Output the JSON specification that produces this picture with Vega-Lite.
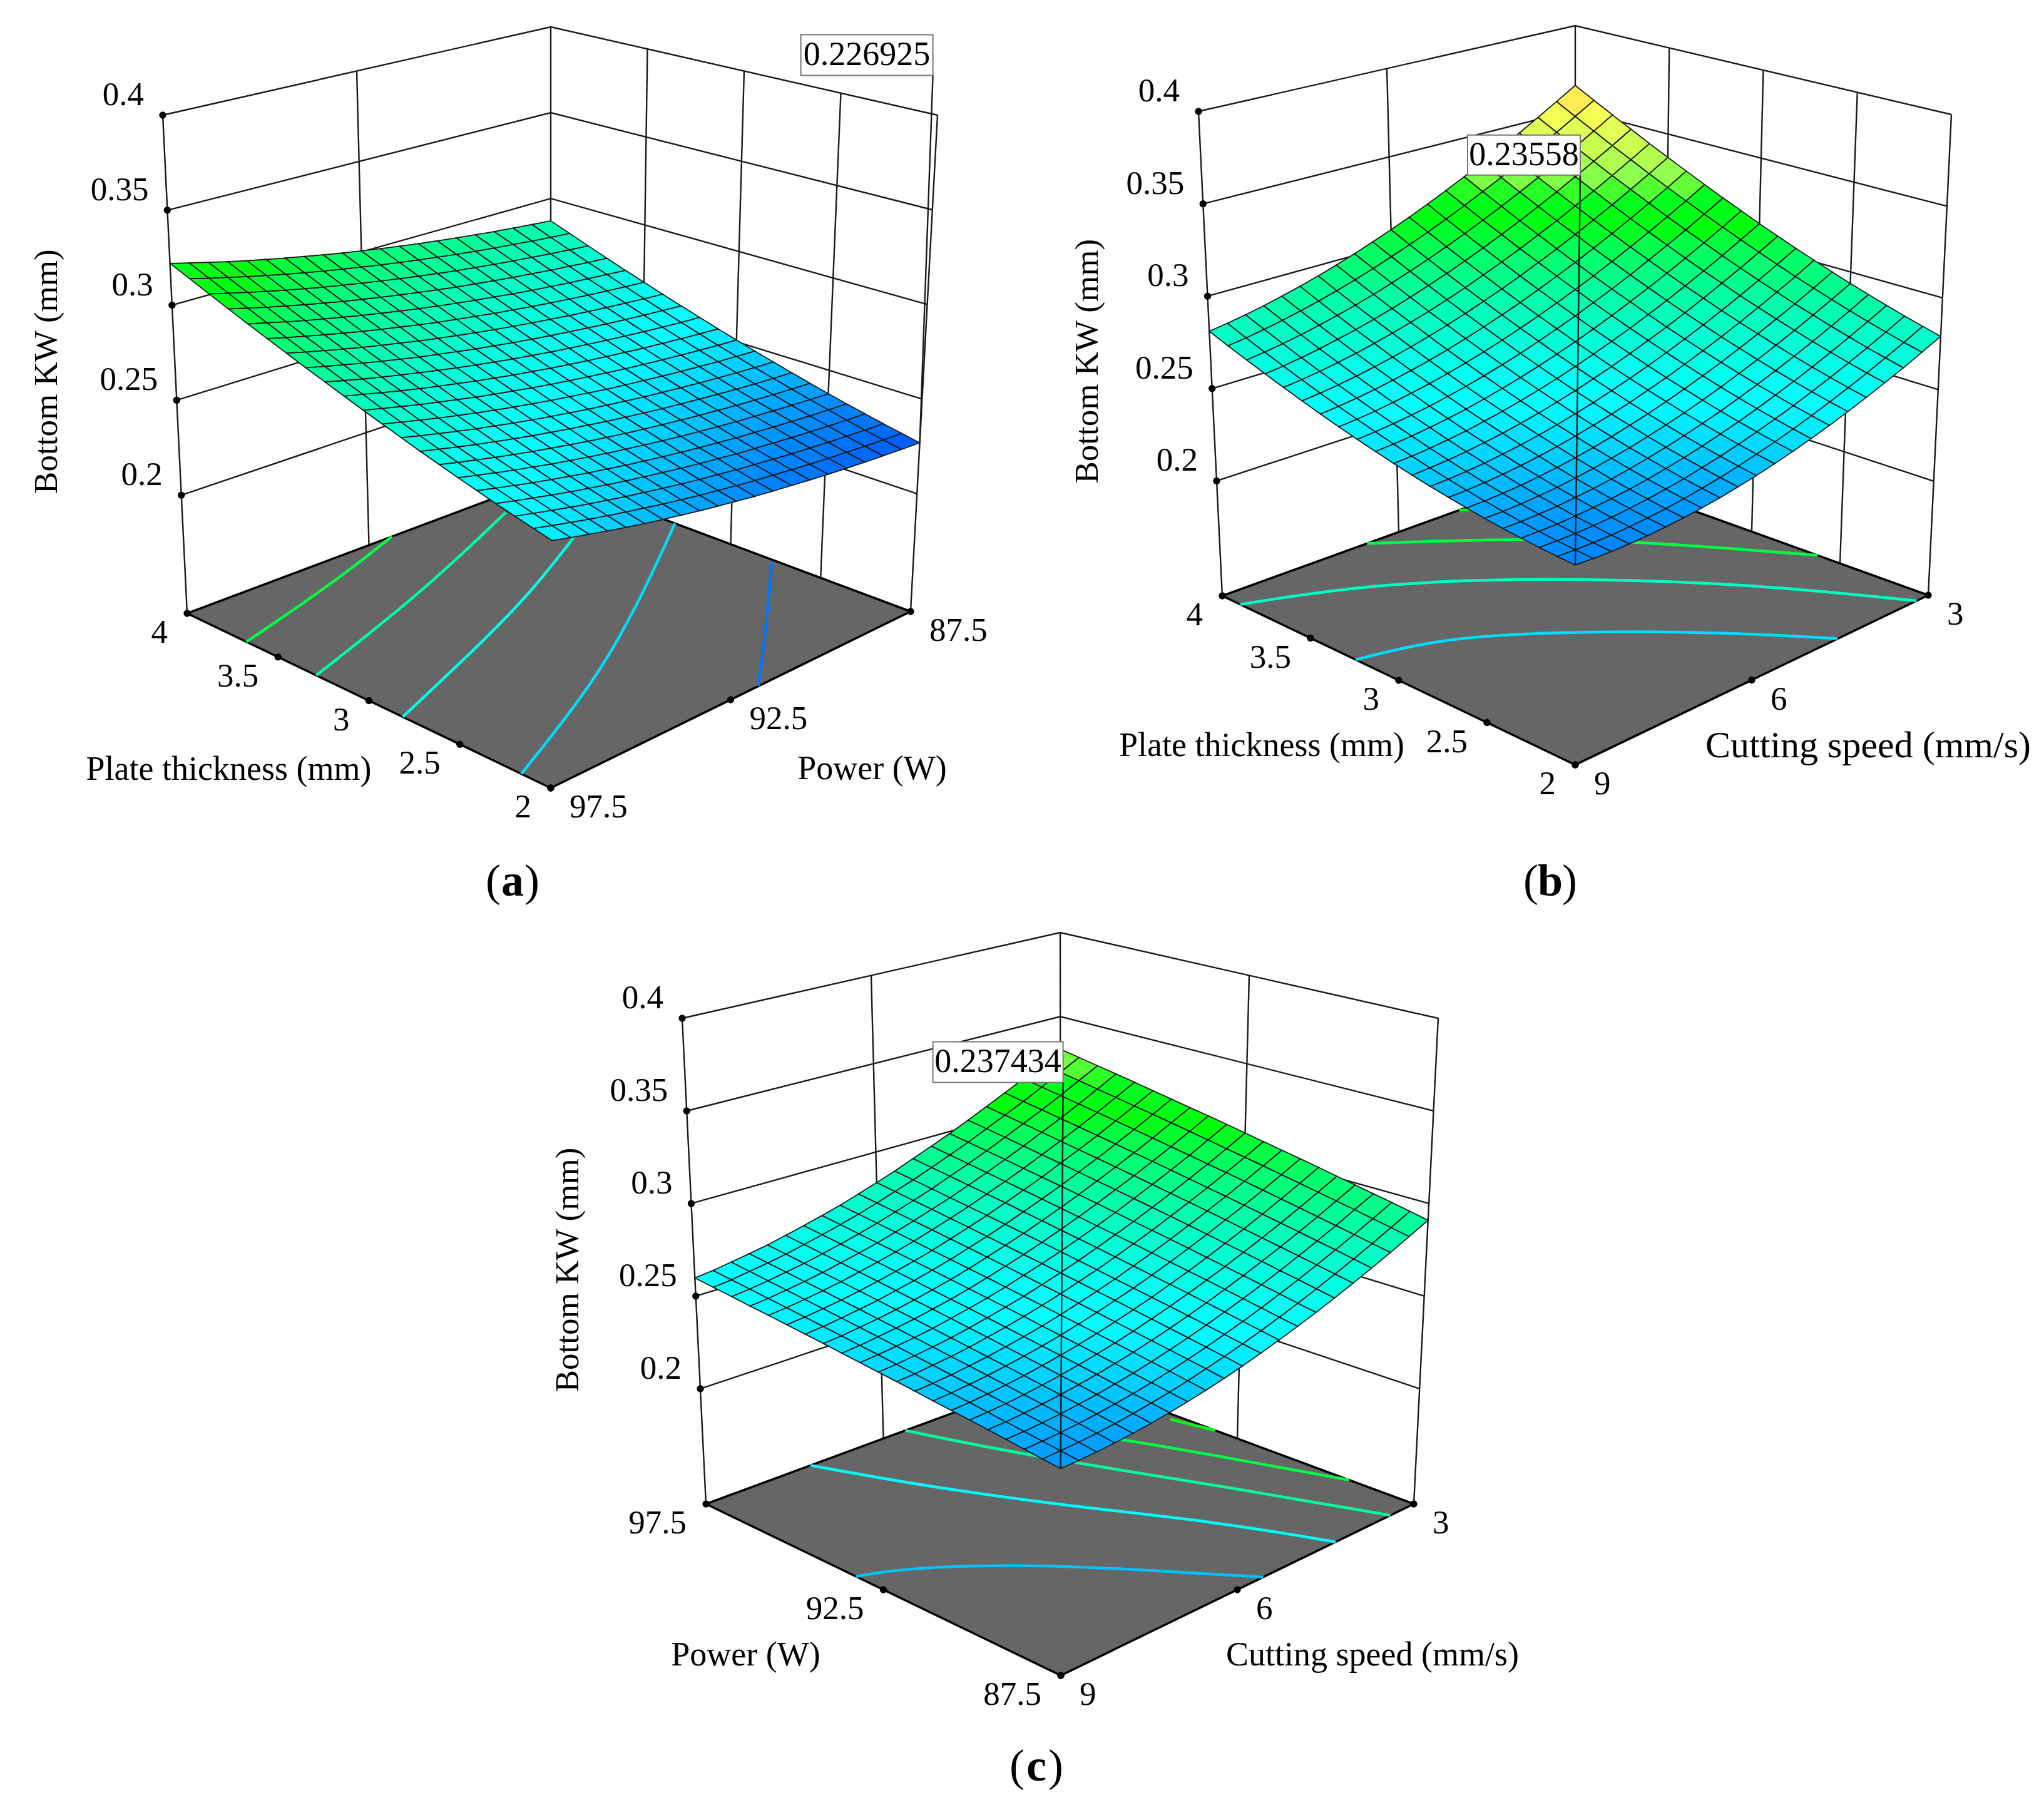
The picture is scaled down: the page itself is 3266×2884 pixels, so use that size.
{"$schema":"https://vega.github.io/schema/vega-lite/v6.json","width":3266,"height":2884,"padding":0,"autosize":{"type":"none"},"background":"white","config":{"view":{"stroke":null}},
"params":[{"name":"cam","value":{"a":{"X":[880,299,1455,880,885,260,1498,880],"Y":[1259,980,977,762,367,184,184,43],"x0":2,"xs":2,"y0":97.5,"ys":10},"b":{"X":[2517,1953,3081,2517,2517,1915,3118,2517],"Y":[1222,952,951,748,366,178,183,41],"x0":2,"xs":2,"y0":9,"ys":6},"c":{"X":[1695,1128,2259,1695,1694,1090,2298,1694],"Y":[2677,2403,2403,2194,1807,1627,1627,1490],"x0":87.5,"xs":10,"y0":9,"ys":6}}},
{"name":"off","value":{"lttl":{"a":[-224,110],"b":[-219,105],"c":[-220,105]},"rttl":{"a":[226,111],"b":[186,105],"c":[216,105]},"zttl":{"a":[-200,106],"b":[-191,104],"c":[-196,106]},"cap":{"a":[-61,150],"b":[-40,187],"c":[-39,146]},"box":{"a":[-190,21,-652,-587],"b":[-172,8,-687,-623],"c":[-204,4,-682,-617]}}}],
"data":{"values":[
{"p":"a","x":2,"y":87.5,"z":0.2269},{"p":"a","x":2,"y":88,"z":0.2275},{"p":"a","x":2,"y":88.5,"z":0.2282},{"p":"a","x":2,"y":89,"z":0.2289},{"p":"a","x":2,"y":89.5,"z":0.2298},{"p":"a","x":2,"y":90,"z":0.2307},{"p":"a","x":2,"y":90.5,"z":0.2317},{"p":"a","x":2,"y":91,"z":0.2328},{"p":"a","x":2,"y":91.5,"z":0.2339},{"p":"a","x":2,"y":92,"z":0.2351},{"p":"a","x":2,"y":92.5,"z":0.2365},{"p":"a","x":2,"y":93,"z":0.2379},{"p":"a","x":2,"y":93.5,"z":0.2393},{"p":"a","x":2,"y":94,"z":0.2409},{"p":"a","x":2,"y":94.5,"z":0.2425},{"p":"a","x":2,"y":95,"z":0.2442},{"p":"a","x":2,"y":95.5,"z":0.246},{"p":"a","x":2,"y":96,"z":0.2479},{"p":"a","x":2,"y":96.5,"z":0.2499},{"p":"a","x":2,"y":97,"z":0.2519},{"p":"a","x":2,"y":97.5,"z":0.254},
{"p":"a","x":2.1,"y":87.5,"z":0.2288},{"p":"a","x":2.1,"y":88,"z":0.2294},{"p":"a","x":2.1,"y":88.5,"z":0.2301},{"p":"a","x":2.1,"y":89,"z":0.2309},{"p":"a","x":2.1,"y":89.5,"z":0.2317},{"p":"a","x":2.1,"y":90,"z":0.2326},{"p":"a","x":2.1,"y":90.5,"z":0.2337},{"p":"a","x":2.1,"y":91,"z":0.2348},{"p":"a","x":2.1,"y":91.5,"z":0.2359},{"p":"a","x":2.1,"y":92,"z":0.2372},{"p":"a","x":2.1,"y":92.5,"z":0.2385},{"p":"a","x":2.1,"y":93,"z":0.2399},{"p":"a","x":2.1,"y":93.5,"z":0.2414},{"p":"a","x":2.1,"y":94,"z":0.243},{"p":"a","x":2.1,"y":94.5,"z":0.2447},{"p":"a","x":2.1,"y":95,"z":0.2464},{"p":"a","x":2.1,"y":95.5,"z":0.2482},{"p":"a","x":2.1,"y":96,"z":0.2501},{"p":"a","x":2.1,"y":96.5,"z":0.2521},{"p":"a","x":2.1,"y":97,"z":0.2541},{"p":"a","x":2.1,"y":97.5,"z":0.2563},
{"p":"a","x":2.2,"y":87.5,"z":0.2308},{"p":"a","x":2.2,"y":88,"z":0.2314},{"p":"a","x":2.2,"y":88.5,"z":0.2321},{"p":"a","x":2.2,"y":89,"z":0.2329},{"p":"a","x":2.2,"y":89.5,"z":0.2338},{"p":"a","x":2.2,"y":90,"z":0.2347},{"p":"a","x":2.2,"y":90.5,"z":0.2358},{"p":"a","x":2.2,"y":91,"z":0.2369},{"p":"a","x":2.2,"y":91.5,"z":0.2381},{"p":"a","x":2.2,"y":92,"z":0.2394},{"p":"a","x":2.2,"y":92.5,"z":0.2407},{"p":"a","x":2.2,"y":93,"z":0.2421},{"p":"a","x":2.2,"y":93.5,"z":0.2437},{"p":"a","x":2.2,"y":94,"z":0.2453},{"p":"a","x":2.2,"y":94.5,"z":0.2469},{"p":"a","x":2.2,"y":95,"z":0.2487},{"p":"a","x":2.2,"y":95.5,"z":0.2505},{"p":"a","x":2.2,"y":96,"z":0.2524},{"p":"a","x":2.2,"y":96.5,"z":0.2544},{"p":"a","x":2.2,"y":97,"z":0.2565},{"p":"a","x":2.2,"y":97.5,"z":0.2586},
{"p":"a","x":2.3,"y":87.5,"z":0.2329},{"p":"a","x":2.3,"y":88,"z":0.2335},{"p":"a","x":2.3,"y":88.5,"z":0.2343},{"p":"a","x":2.3,"y":89,"z":0.2351},{"p":"a","x":2.3,"y":89.5,"z":0.236},{"p":"a","x":2.3,"y":90,"z":0.237},{"p":"a","x":2.3,"y":90.5,"z":0.238},{"p":"a","x":2.3,"y":91,"z":0.2391},{"p":"a","x":2.3,"y":91.5,"z":0.2404},{"p":"a","x":2.3,"y":92,"z":0.2416},{"p":"a","x":2.3,"y":92.5,"z":0.243},{"p":"a","x":2.3,"y":93,"z":0.2445},{"p":"a","x":2.3,"y":93.5,"z":0.246},{"p":"a","x":2.3,"y":94,"z":0.2476},{"p":"a","x":2.3,"y":94.5,"z":0.2493},{"p":"a","x":2.3,"y":95,"z":0.2511},{"p":"a","x":2.3,"y":95.5,"z":0.2529},{"p":"a","x":2.3,"y":96,"z":0.2549},{"p":"a","x":2.3,"y":96.5,"z":0.2569},{"p":"a","x":2.3,"y":97,"z":0.259},{"p":"a","x":2.3,"y":97.5,"z":0.2611},
{"p":"a","x":2.4,"y":87.5,"z":0.2351},{"p":"a","x":2.4,"y":88,"z":0.2358},{"p":"a","x":2.4,"y":88.5,"z":0.2365},{"p":"a","x":2.4,"y":89,"z":0.2374},{"p":"a","x":2.4,"y":89.5,"z":0.2383},{"p":"a","x":2.4,"y":90,"z":0.2393},{"p":"a","x":2.4,"y":90.5,"z":0.2403},{"p":"a","x":2.4,"y":91,"z":0.2415},{"p":"a","x":2.4,"y":91.5,"z":0.2427},{"p":"a","x":2.4,"y":92,"z":0.244},{"p":"a","x":2.4,"y":92.5,"z":0.2454},{"p":"a","x":2.4,"y":93,"z":0.2469},{"p":"a","x":2.4,"y":93.5,"z":0.2484},{"p":"a","x":2.4,"y":94,"z":0.2501},{"p":"a","x":2.4,"y":94.5,"z":0.2518},{"p":"a","x":2.4,"y":95,"z":0.2536},{"p":"a","x":2.4,"y":95.5,"z":0.2555},{"p":"a","x":2.4,"y":96,"z":0.2574},{"p":"a","x":2.4,"y":96.5,"z":0.2595},{"p":"a","x":2.4,"y":97,"z":0.2616},{"p":"a","x":2.4,"y":97.5,"z":0.2638},
{"p":"a","x":2.5,"y":87.5,"z":0.2374},{"p":"a","x":2.5,"y":88,"z":0.2381},{"p":"a","x":2.5,"y":88.5,"z":0.2389},{"p":"a","x":2.5,"y":89,"z":0.2398},{"p":"a","x":2.5,"y":89.5,"z":0.2407},{"p":"a","x":2.5,"y":90,"z":0.2417},{"p":"a","x":2.5,"y":90.5,"z":0.2428},{"p":"a","x":2.5,"y":91,"z":0.244},{"p":"a","x":2.5,"y":91.5,"z":0.2452},{"p":"a","x":2.5,"y":92,"z":0.2466},{"p":"a","x":2.5,"y":92.5,"z":0.248},{"p":"a","x":2.5,"y":93,"z":0.2495},{"p":"a","x":2.5,"y":93.5,"z":0.251},{"p":"a","x":2.5,"y":94,"z":0.2527},{"p":"a","x":2.5,"y":94.5,"z":0.2544},{"p":"a","x":2.5,"y":95,"z":0.2562},{"p":"a","x":2.5,"y":95.5,"z":0.2582},{"p":"a","x":2.5,"y":96,"z":0.2601},{"p":"a","x":2.5,"y":96.5,"z":0.2622},{"p":"a","x":2.5,"y":97,"z":0.2643},{"p":"a","x":2.5,"y":97.5,"z":0.2665},
{"p":"a","x":2.6,"y":87.5,"z":0.2399},{"p":"a","x":2.6,"y":88,"z":0.2406},{"p":"a","x":2.6,"y":88.5,"z":0.2414},{"p":"a","x":2.6,"y":89,"z":0.2423},{"p":"a","x":2.6,"y":89.5,"z":0.2432},{"p":"a","x":2.6,"y":90,"z":0.2443},{"p":"a","x":2.6,"y":90.5,"z":0.2454},{"p":"a","x":2.6,"y":91,"z":0.2466},{"p":"a","x":2.6,"y":91.5,"z":0.2479},{"p":"a","x":2.6,"y":92,"z":0.2492},{"p":"a","x":2.6,"y":92.5,"z":0.2506},{"p":"a","x":2.6,"y":93,"z":0.2521},{"p":"a","x":2.6,"y":93.5,"z":0.2537},{"p":"a","x":2.6,"y":94,"z":0.2554},{"p":"a","x":2.6,"y":94.5,"z":0.2572},{"p":"a","x":2.6,"y":95,"z":0.259},{"p":"a","x":2.6,"y":95.5,"z":0.2609},{"p":"a","x":2.6,"y":96,"z":0.2629},{"p":"a","x":2.6,"y":96.5,"z":0.265},{"p":"a","x":2.6,"y":97,"z":0.2671},{"p":"a","x":2.6,"y":97.5,"z":0.2694},
{"p":"a","x":2.7,"y":87.5,"z":0.2425},{"p":"a","x":2.7,"y":88,"z":0.2432},{"p":"a","x":2.7,"y":88.5,"z":0.244},{"p":"a","x":2.7,"y":89,"z":0.2449},{"p":"a","x":2.7,"y":89.5,"z":0.2459},{"p":"a","x":2.7,"y":90,"z":0.247},{"p":"a","x":2.7,"y":90.5,"z":0.2481},{"p":"a","x":2.7,"y":91,"z":0.2493},{"p":"a","x":2.7,"y":91.5,"z":0.2506},{"p":"a","x":2.7,"y":92,"z":0.252},{"p":"a","x":2.7,"y":92.5,"z":0.2534},{"p":"a","x":2.7,"y":93,"z":0.255},{"p":"a","x":2.7,"y":93.5,"z":0.2566},{"p":"a","x":2.7,"y":94,"z":0.2583},{"p":"a","x":2.7,"y":94.5,"z":0.26},{"p":"a","x":2.7,"y":95,"z":0.2619},{"p":"a","x":2.7,"y":95.5,"z":0.2638},{"p":"a","x":2.7,"y":96,"z":0.2658},{"p":"a","x":2.7,"y":96.5,"z":0.2679},{"p":"a","x":2.7,"y":97,"z":0.2701},{"p":"a","x":2.7,"y":97.5,"z":0.2723},
{"p":"a","x":2.8,"y":87.5,"z":0.2452},{"p":"a","x":2.8,"y":88,"z":0.2459},{"p":"a","x":2.8,"y":88.5,"z":0.2468},{"p":"a","x":2.8,"y":89,"z":0.2477},{"p":"a","x":2.8,"y":89.5,"z":0.2487},{"p":"a","x":2.8,"y":90,"z":0.2498},{"p":"a","x":2.8,"y":90.5,"z":0.2509},{"p":"a","x":2.8,"y":91,"z":0.2521},{"p":"a","x":2.8,"y":91.5,"z":0.2535},{"p":"a","x":2.8,"y":92,"z":0.2549},{"p":"a","x":2.8,"y":92.5,"z":0.2563},{"p":"a","x":2.8,"y":93,"z":0.2579},{"p":"a","x":2.8,"y":93.5,"z":0.2595},{"p":"a","x":2.8,"y":94,"z":0.2612},{"p":"a","x":2.8,"y":94.5,"z":0.263},{"p":"a","x":2.8,"y":95,"z":0.2649},{"p":"a","x":2.8,"y":95.5,"z":0.2668},{"p":"a","x":2.8,"y":96,"z":0.2689},{"p":"a","x":2.8,"y":96.5,"z":0.271},{"p":"a","x":2.8,"y":97,"z":0.2732},{"p":"a","x":2.8,"y":97.5,"z":0.2755},
{"p":"a","x":2.9,"y":87.5,"z":0.248},{"p":"a","x":2.9,"y":88,"z":0.2488},{"p":"a","x":2.9,"y":88.5,"z":0.2496},{"p":"a","x":2.9,"y":89,"z":0.2506},{"p":"a","x":2.9,"y":89.5,"z":0.2516},{"p":"a","x":2.9,"y":90,"z":0.2527},{"p":"a","x":2.9,"y":90.5,"z":0.2539},{"p":"a","x":2.9,"y":91,"z":0.2551},{"p":"a","x":2.9,"y":91.5,"z":0.2564},{"p":"a","x":2.9,"y":92,"z":0.2579},{"p":"a","x":2.9,"y":92.5,"z":0.2594},{"p":"a","x":2.9,"y":93,"z":0.2609},{"p":"a","x":2.9,"y":93.5,"z":0.2626},{"p":"a","x":2.9,"y":94,"z":0.2643},{"p":"a","x":2.9,"y":94.5,"z":0.2661},{"p":"a","x":2.9,"y":95,"z":0.268},{"p":"a","x":2.9,"y":95.5,"z":0.27},{"p":"a","x":2.9,"y":96,"z":0.272},{"p":"a","x":2.9,"y":96.5,"z":0.2742},{"p":"a","x":2.9,"y":97,"z":0.2764},{"p":"a","x":2.9,"y":97.5,"z":0.2787},
{"p":"a","x":3,"y":87.5,"z":0.251},{"p":"a","x":3,"y":88,"z":0.2517},{"p":"a","x":3,"y":88.5,"z":0.2526},{"p":"a","x":3,"y":89,"z":0.2536},{"p":"a","x":3,"y":89.5,"z":0.2546},{"p":"a","x":3,"y":90,"z":0.2557},{"p":"a","x":3,"y":90.5,"z":0.2569},{"p":"a","x":3,"y":91,"z":0.2582},{"p":"a","x":3,"y":91.5,"z":0.2596},{"p":"a","x":3,"y":92,"z":0.261},{"p":"a","x":3,"y":92.5,"z":0.2625},{"p":"a","x":3,"y":93,"z":0.2641},{"p":"a","x":3,"y":93.5,"z":0.2658},{"p":"a","x":3,"y":94,"z":0.2675},{"p":"a","x":3,"y":94.5,"z":0.2693},{"p":"a","x":3,"y":95,"z":0.2713},{"p":"a","x":3,"y":95.5,"z":0.2733},{"p":"a","x":3,"y":96,"z":0.2753},{"p":"a","x":3,"y":96.5,"z":0.2775},{"p":"a","x":3,"y":97,"z":0.2797},{"p":"a","x":3,"y":97.5,"z":0.282},
{"p":"a","x":3.1,"y":87.5,"z":0.254},{"p":"a","x":3.1,"y":88,"z":0.2548},{"p":"a","x":3.1,"y":88.5,"z":0.2557},{"p":"a","x":3.1,"y":89,"z":0.2567},{"p":"a","x":3.1,"y":89.5,"z":0.2577},{"p":"a","x":3.1,"y":90,"z":0.2589},{"p":"a","x":3.1,"y":90.5,"z":0.2601},{"p":"a","x":3.1,"y":91,"z":0.2614},{"p":"a","x":3.1,"y":91.5,"z":0.2628},{"p":"a","x":3.1,"y":92,"z":0.2642},{"p":"a","x":3.1,"y":92.5,"z":0.2658},{"p":"a","x":3.1,"y":93,"z":0.2674},{"p":"a","x":3.1,"y":93.5,"z":0.2691},{"p":"a","x":3.1,"y":94,"z":0.2709},{"p":"a","x":3.1,"y":94.5,"z":0.2728},{"p":"a","x":3.1,"y":95,"z":0.2747},{"p":"a","x":3.1,"y":95.5,"z":0.2767},{"p":"a","x":3.1,"y":96,"z":0.2788},{"p":"a","x":3.1,"y":96.5,"z":0.281},{"p":"a","x":3.1,"y":97,"z":0.2833},{"p":"a","x":3.1,"y":97.5,"z":0.2855},
{"p":"a","x":3.2,"y":87.5,"z":0.2572},{"p":"a","x":3.2,"y":88,"z":0.258},{"p":"a","x":3.2,"y":88.5,"z":0.2589},{"p":"a","x":3.2,"y":89,"z":0.2599},{"p":"a","x":3.2,"y":89.5,"z":0.261},{"p":"a","x":3.2,"y":90,"z":0.2622},{"p":"a","x":3.2,"y":90.5,"z":0.2634},{"p":"a","x":3.2,"y":91,"z":0.2647},{"p":"a","x":3.2,"y":91.5,"z":0.2661},{"p":"a","x":3.2,"y":92,"z":0.2676},{"p":"a","x":3.2,"y":92.5,"z":0.2691},{"p":"a","x":3.2,"y":93,"z":0.2708},{"p":"a","x":3.2,"y":93.5,"z":0.2725},{"p":"a","x":3.2,"y":94,"z":0.2743},{"p":"a","x":3.2,"y":94.5,"z":0.2762},{"p":"a","x":3.2,"y":95,"z":0.2782},{"p":"a","x":3.2,"y":95.5,"z":0.2802},{"p":"a","x":3.2,"y":96,"z":0.2823},{"p":"a","x":3.2,"y":96.5,"z":0.2844},{"p":"a","x":3.2,"y":97,"z":0.2867},{"p":"a","x":3.2,"y":97.5,"z":0.2891},
{"p":"a","x":3.3,"y":87.5,"z":0.2605},{"p":"a","x":3.3,"y":88,"z":0.2614},{"p":"a","x":3.3,"y":88.5,"z":0.2623},{"p":"a","x":3.3,"y":89,"z":0.2633},{"p":"a","x":3.3,"y":89.5,"z":0.2644},{"p":"a","x":3.3,"y":90,"z":0.2656},{"p":"a","x":3.3,"y":90.5,"z":0.2669},{"p":"a","x":3.3,"y":91,"z":0.2682},{"p":"a","x":3.3,"y":91.5,"z":0.2696},{"p":"a","x":3.3,"y":92,"z":0.2711},{"p":"a","x":3.3,"y":92.5,"z":0.2727},{"p":"a","x":3.3,"y":93,"z":0.2743},{"p":"a","x":3.3,"y":93.5,"z":0.2761},{"p":"a","x":3.3,"y":94,"z":0.2779},{"p":"a","x":3.3,"y":94.5,"z":0.2797},{"p":"a","x":3.3,"y":95,"z":0.2817},{"p":"a","x":3.3,"y":95.5,"z":0.2838},{"p":"a","x":3.3,"y":96,"z":0.2859},{"p":"a","x":3.3,"y":96.5,"z":0.2881},{"p":"a","x":3.3,"y":97,"z":0.2904},{"p":"a","x":3.3,"y":97.5,"z":0.2927},
{"p":"a","x":3.4,"y":87.5,"z":0.2639},{"p":"a","x":3.4,"y":88,"z":0.2648},{"p":"a","x":3.4,"y":88.5,"z":0.2658},{"p":"a","x":3.4,"y":89,"z":0.2668},{"p":"a","x":3.4,"y":89.5,"z":0.2679},{"p":"a","x":3.4,"y":90,"z":0.2691},{"p":"a","x":3.4,"y":90.5,"z":0.2704},{"p":"a","x":3.4,"y":91,"z":0.2718},{"p":"a","x":3.4,"y":91.5,"z":0.2732},{"p":"a","x":3.4,"y":92,"z":0.2747},{"p":"a","x":3.4,"y":92.5,"z":0.2763},{"p":"a","x":3.4,"y":93,"z":0.278},{"p":"a","x":3.4,"y":93.5,"z":0.2797},{"p":"a","x":3.4,"y":94,"z":0.2815},{"p":"a","x":3.4,"y":94.5,"z":0.2835},{"p":"a","x":3.4,"y":95,"z":0.2855},{"p":"a","x":3.4,"y":95.5,"z":0.2875},{"p":"a","x":3.4,"y":96,"z":0.2897},{"p":"a","x":3.4,"y":96.5,"z":0.2919},{"p":"a","x":3.4,"y":97,"z":0.2942},{"p":"a","x":3.4,"y":97.5,"z":0.2966},
{"p":"a","x":3.5,"y":87.5,"z":0.2675},{"p":"a","x":3.5,"y":88,"z":0.2684},{"p":"a","x":3.5,"y":88.5,"z":0.2694},{"p":"a","x":3.5,"y":89,"z":0.2704},{"p":"a","x":3.5,"y":89.5,"z":0.2716},{"p":"a","x":3.5,"y":90,"z":0.2728},{"p":"a","x":3.5,"y":90.5,"z":0.2741},{"p":"a","x":3.5,"y":91,"z":0.2755},{"p":"a","x":3.5,"y":91.5,"z":0.2769},{"p":"a","x":3.5,"y":92,"z":0.2785},{"p":"a","x":3.5,"y":92.5,"z":0.2801},{"p":"a","x":3.5,"y":93,"z":0.2817},{"p":"a","x":3.5,"y":93.5,"z":0.2835},{"p":"a","x":3.5,"y":94,"z":0.2854},{"p":"a","x":3.5,"y":94.5,"z":0.2873},{"p":"a","x":3.5,"y":95,"z":0.2893},{"p":"a","x":3.5,"y":95.5,"z":0.2914},{"p":"a","x":3.5,"y":96,"z":0.2936},{"p":"a","x":3.5,"y":96.5,"z":0.2958},{"p":"a","x":3.5,"y":97,"z":0.2981},{"p":"a","x":3.5,"y":97.5,"z":0.3005},
{"p":"a","x":3.6,"y":87.5,"z":0.2711},{"p":"a","x":3.6,"y":88,"z":0.2721},{"p":"a","x":3.6,"y":88.5,"z":0.2731},{"p":"a","x":3.6,"y":89,"z":0.2741},{"p":"a","x":3.6,"y":89.5,"z":0.2753},{"p":"a","x":3.6,"y":90,"z":0.2765},{"p":"a","x":3.6,"y":90.5,"z":0.2778},{"p":"a","x":3.6,"y":91,"z":0.2793},{"p":"a","x":3.6,"y":91.5,"z":0.2807},{"p":"a","x":3.6,"y":92,"z":0.2823},{"p":"a","x":3.6,"y":92.5,"z":0.2839},{"p":"a","x":3.6,"y":93,"z":0.2856},{"p":"a","x":3.6,"y":93.5,"z":0.2874},{"p":"a","x":3.6,"y":94,"z":0.2893},{"p":"a","x":3.6,"y":94.5,"z":0.2912},{"p":"a","x":3.6,"y":95,"z":0.2933},{"p":"a","x":3.6,"y":95.5,"z":0.2954},{"p":"a","x":3.6,"y":96,"z":0.2975},{"p":"a","x":3.6,"y":96.5,"z":0.2998},{"p":"a","x":3.6,"y":97,"z":0.3022},{"p":"a","x":3.6,"y":97.5,"z":0.3045},
{"p":"a","x":3.7,"y":87.5,"z":0.2749},{"p":"a","x":3.7,"y":88,"z":0.2758},{"p":"a","x":3.7,"y":88.5,"z":0.2769},{"p":"a","x":3.7,"y":89,"z":0.278},{"p":"a","x":3.7,"y":89.5,"z":0.2792},{"p":"a","x":3.7,"y":90,"z":0.2804},{"p":"a","x":3.7,"y":90.5,"z":0.2818},{"p":"a","x":3.7,"y":91,"z":0.2832},{"p":"a","x":3.7,"y":91.5,"z":0.2846},{"p":"a","x":3.7,"y":92,"z":0.2862},{"p":"a","x":3.7,"y":92.5,"z":0.2879},{"p":"a","x":3.7,"y":93,"z":0.2896},{"p":"a","x":3.7,"y":93.5,"z":0.2914},{"p":"a","x":3.7,"y":94,"z":0.2933},{"p":"a","x":3.7,"y":94.5,"z":0.2952},{"p":"a","x":3.7,"y":95,"z":0.2973},{"p":"a","x":3.7,"y":95.5,"z":0.2994},{"p":"a","x":3.7,"y":96,"z":0.3016},{"p":"a","x":3.7,"y":96.5,"z":0.3039},{"p":"a","x":3.7,"y":97,"z":0.3063},{"p":"a","x":3.7,"y":97.5,"z":0.3087},
{"p":"a","x":3.8,"y":87.5,"z":0.2788},{"p":"a","x":3.8,"y":88,"z":0.2798},{"p":"a","x":3.8,"y":88.5,"z":0.2808},{"p":"a","x":3.8,"y":89,"z":0.282},{"p":"a","x":3.8,"y":89.5,"z":0.2832},{"p":"a","x":3.8,"y":90,"z":0.2844},{"p":"a","x":3.8,"y":90.5,"z":0.2858},{"p":"a","x":3.8,"y":91,"z":0.2872},{"p":"a","x":3.8,"y":91.5,"z":0.2887},{"p":"a","x":3.8,"y":92,"z":0.2903},{"p":"a","x":3.8,"y":92.5,"z":0.292},{"p":"a","x":3.8,"y":93,"z":0.2938},{"p":"a","x":3.8,"y":93.5,"z":0.2956},{"p":"a","x":3.8,"y":94,"z":0.2975},{"p":"a","x":3.8,"y":94.5,"z":0.2994},{"p":"a","x":3.8,"y":95,"z":0.3015},{"p":"a","x":3.8,"y":95.5,"z":0.3036},{"p":"a","x":3.8,"y":96,"z":0.3059},{"p":"a","x":3.8,"y":96.5,"z":0.3082},{"p":"a","x":3.8,"y":97,"z":0.3106},{"p":"a","x":3.8,"y":97.5,"z":0.313},
{"p":"a","x":3.9,"y":87.5,"z":0.2829},{"p":"a","x":3.9,"y":88,"z":0.2838},{"p":"a","x":3.9,"y":88.5,"z":0.2849},{"p":"a","x":3.9,"y":89,"z":0.2861},{"p":"a","x":3.9,"y":89.5,"z":0.2872},{"p":"a","x":3.9,"y":90,"z":0.2885},{"p":"a","x":3.9,"y":90.5,"z":0.2899},{"p":"a","x":3.9,"y":91,"z":0.2914},{"p":"a","x":3.9,"y":91.5,"z":0.2929},{"p":"a","x":3.9,"y":92,"z":0.2945},{"p":"a","x":3.9,"y":92.5,"z":0.2962},{"p":"a","x":3.9,"y":93,"z":0.298},{"p":"a","x":3.9,"y":93.5,"z":0.2998},{"p":"a","x":3.9,"y":94,"z":0.3017},{"p":"a","x":3.9,"y":94.5,"z":0.3037},{"p":"a","x":3.9,"y":95,"z":0.3058},{"p":"a","x":3.9,"y":95.5,"z":0.308},{"p":"a","x":3.9,"y":96,"z":0.3102},{"p":"a","x":3.9,"y":96.5,"z":0.3126},{"p":"a","x":3.9,"y":97,"z":0.315},{"p":"a","x":3.9,"y":97.5,"z":0.3175},
{"p":"a","x":4,"y":87.5,"z":0.287},{"p":"a","x":4,"y":88,"z":0.288},{"p":"a","x":4,"y":88.5,"z":0.2891},{"p":"a","x":4,"y":89,"z":0.2902},{"p":"a","x":4,"y":89.5,"z":0.2915},{"p":"a","x":4,"y":90,"z":0.2928},{"p":"a","x":4,"y":90.5,"z":0.2942},{"p":"a","x":4,"y":91,"z":0.2956},{"p":"a","x":4,"y":91.5,"z":0.2972},{"p":"a","x":4,"y":92,"z":0.2988},{"p":"a","x":4,"y":92.5,"z":0.3005},{"p":"a","x":4,"y":93,"z":0.3023},{"p":"a","x":4,"y":93.5,"z":0.3042},{"p":"a","x":4,"y":94,"z":0.3062},{"p":"a","x":4,"y":94.5,"z":0.3082},{"p":"a","x":4,"y":95,"z":0.3103},{"p":"a","x":4,"y":95.5,"z":0.3124},{"p":"a","x":4,"y":96,"z":0.3147},{"p":"a","x":4,"y":96.5,"z":0.3171},{"p":"a","x":4,"y":97,"z":0.3195},{"p":"a","x":4,"y":97.5,"z":0.322},

{"p":"b","x":2,"y":9,"z":0.2356},{"p":"b","x":2,"y":8.7,"z":0.2351},{"p":"b","x":2,"y":8.4,"z":0.2349},{"p":"b","x":2,"y":8.1,"z":0.235},{"p":"b","x":2,"y":7.8,"z":0.2353},{"p":"b","x":2,"y":7.5,"z":0.236},{"p":"b","x":2,"y":7.2,"z":0.2369},{"p":"b","x":2,"y":6.9,"z":0.2381},{"p":"b","x":2,"y":6.6,"z":0.2395},{"p":"b","x":2,"y":6.3,"z":0.2413},{"p":"b","x":2,"y":6,"z":0.2433},{"p":"b","x":2,"y":5.7,"z":0.2456},{"p":"b","x":2,"y":5.4,"z":0.2482},{"p":"b","x":2,"y":5.1,"z":0.2511},{"p":"b","x":2,"y":4.8,"z":0.2542},{"p":"b","x":2,"y":4.5,"z":0.2577},{"p":"b","x":2,"y":4.2,"z":0.2614},{"p":"b","x":2,"y":3.9,"z":0.2654},{"p":"b","x":2,"y":3.6,"z":0.2696},{"p":"b","x":2,"y":3.3,"z":0.2742},{"p":"b","x":2,"y":3,"z":0.279},
{"p":"b","x":2.1,"y":9,"z":0.2362},{"p":"b","x":2.1,"y":8.7,"z":0.2358},{"p":"b","x":2.1,"y":8.4,"z":0.2357},{"p":"b","x":2.1,"y":8.1,"z":0.2358},{"p":"b","x":2.1,"y":7.8,"z":0.2363},{"p":"b","x":2.1,"y":7.5,"z":0.237},{"p":"b","x":2.1,"y":7.2,"z":0.238},{"p":"b","x":2.1,"y":6.9,"z":0.2393},{"p":"b","x":2.1,"y":6.6,"z":0.2409},{"p":"b","x":2.1,"y":6.3,"z":0.2427},{"p":"b","x":2.1,"y":6,"z":0.2449},{"p":"b","x":2.1,"y":5.7,"z":0.2473},{"p":"b","x":2.1,"y":5.4,"z":0.25},{"p":"b","x":2.1,"y":5.1,"z":0.2529},{"p":"b","x":2.1,"y":4.8,"z":0.2562},{"p":"b","x":2.1,"y":4.5,"z":0.2597},{"p":"b","x":2.1,"y":4.2,"z":0.2635},{"p":"b","x":2.1,"y":3.9,"z":0.2676},{"p":"b","x":2.1,"y":3.6,"z":0.272},{"p":"b","x":2.1,"y":3.3,"z":0.2766},{"p":"b","x":2.1,"y":3,"z":0.2816},
{"p":"b","x":2.2,"y":9,"z":0.2369},{"p":"b","x":2.2,"y":8.7,"z":0.2366},{"p":"b","x":2.2,"y":8.4,"z":0.2366},{"p":"b","x":2.2,"y":8.1,"z":0.2369},{"p":"b","x":2.2,"y":7.8,"z":0.2374},{"p":"b","x":2.2,"y":7.5,"z":0.2383},{"p":"b","x":2.2,"y":7.2,"z":0.2394},{"p":"b","x":2.2,"y":6.9,"z":0.2408},{"p":"b","x":2.2,"y":6.6,"z":0.2424},{"p":"b","x":2.2,"y":6.3,"z":0.2444},{"p":"b","x":2.2,"y":6,"z":0.2466},{"p":"b","x":2.2,"y":5.7,"z":0.2491},{"p":"b","x":2.2,"y":5.4,"z":0.2519},{"p":"b","x":2.2,"y":5.1,"z":0.255},{"p":"b","x":2.2,"y":4.8,"z":0.2583},{"p":"b","x":2.2,"y":4.5,"z":0.262},{"p":"b","x":2.2,"y":4.2,"z":0.2659},{"p":"b","x":2.2,"y":3.9,"z":0.2701},{"p":"b","x":2.2,"y":3.6,"z":0.2745},{"p":"b","x":2.2,"y":3.3,"z":0.2793},{"p":"b","x":2.2,"y":3,"z":0.2843},
{"p":"b","x":2.3,"y":9,"z":0.2378},{"p":"b","x":2.3,"y":8.7,"z":0.2376},{"p":"b","x":2.3,"y":8.4,"z":0.2377},{"p":"b","x":2.3,"y":8.1,"z":0.2381},{"p":"b","x":2.3,"y":7.8,"z":0.2388},{"p":"b","x":2.3,"y":7.5,"z":0.2397},{"p":"b","x":2.3,"y":7.2,"z":0.2409},{"p":"b","x":2.3,"y":6.9,"z":0.2424},{"p":"b","x":2.3,"y":6.6,"z":0.2442},{"p":"b","x":2.3,"y":6.3,"z":0.2462},{"p":"b","x":2.3,"y":6,"z":0.2485},{"p":"b","x":2.3,"y":5.7,"z":0.2512},{"p":"b","x":2.3,"y":5.4,"z":0.254},{"p":"b","x":2.3,"y":5.1,"z":0.2572},{"p":"b","x":2.3,"y":4.8,"z":0.2607},{"p":"b","x":2.3,"y":4.5,"z":0.2644},{"p":"b","x":2.3,"y":4.2,"z":0.2684},{"p":"b","x":2.3,"y":3.9,"z":0.2727},{"p":"b","x":2.3,"y":3.6,"z":0.2773},{"p":"b","x":2.3,"y":3.3,"z":0.2821},{"p":"b","x":2.3,"y":3,"z":0.2873},
{"p":"b","x":2.4,"y":9,"z":0.2389},{"p":"b","x":2.4,"y":8.7,"z":0.2388},{"p":"b","x":2.4,"y":8.4,"z":0.239},{"p":"b","x":2.4,"y":8.1,"z":0.2395},{"p":"b","x":2.4,"y":7.8,"z":0.2403},{"p":"b","x":2.4,"y":7.5,"z":0.2413},{"p":"b","x":2.4,"y":7.2,"z":0.2426},{"p":"b","x":2.4,"y":6.9,"z":0.2442},{"p":"b","x":2.4,"y":6.6,"z":0.2461},{"p":"b","x":2.4,"y":6.3,"z":0.2482},{"p":"b","x":2.4,"y":6,"z":0.2506},{"p":"b","x":2.4,"y":5.7,"z":0.2534},{"p":"b","x":2.4,"y":5.4,"z":0.2563},{"p":"b","x":2.4,"y":5.1,"z":0.2596},{"p":"b","x":2.4,"y":4.8,"z":0.2632},{"p":"b","x":2.4,"y":4.5,"z":0.267},{"p":"b","x":2.4,"y":4.2,"z":0.2711},{"p":"b","x":2.4,"y":3.9,"z":0.2755},{"p":"b","x":2.4,"y":3.6,"z":0.2802},{"p":"b","x":2.4,"y":3.3,"z":0.2851},{"p":"b","x":2.4,"y":3,"z":0.2904},
{"p":"b","x":2.5,"y":9,"z":0.2402},{"p":"b","x":2.5,"y":8.7,"z":0.2402},{"p":"b","x":2.5,"y":8.4,"z":0.2405},{"p":"b","x":2.5,"y":8.1,"z":0.2411},{"p":"b","x":2.5,"y":7.8,"z":0.2419},{"p":"b","x":2.5,"y":7.5,"z":0.2431},{"p":"b","x":2.5,"y":7.2,"z":0.2445},{"p":"b","x":2.5,"y":6.9,"z":0.2462},{"p":"b","x":2.5,"y":6.6,"z":0.2481},{"p":"b","x":2.5,"y":6.3,"z":0.2504},{"p":"b","x":2.5,"y":6,"z":0.2529},{"p":"b","x":2.5,"y":5.7,"z":0.2557},{"p":"b","x":2.5,"y":5.4,"z":0.2588},{"p":"b","x":2.5,"y":5.1,"z":0.2622},{"p":"b","x":2.5,"y":4.8,"z":0.2659},{"p":"b","x":2.5,"y":4.5,"z":0.2698},{"p":"b","x":2.5,"y":4.2,"z":0.274},{"p":"b","x":2.5,"y":3.9,"z":0.2785},{"p":"b","x":2.5,"y":3.6,"z":0.2833},{"p":"b","x":2.5,"y":3.3,"z":0.2883},{"p":"b","x":2.5,"y":3,"z":0.2936},
{"p":"b","x":2.6,"y":9,"z":0.2417},{"p":"b","x":2.6,"y":8.7,"z":0.2418},{"p":"b","x":2.6,"y":8.4,"z":0.2422},{"p":"b","x":2.6,"y":8.1,"z":0.2428},{"p":"b","x":2.6,"y":7.8,"z":0.2438},{"p":"b","x":2.6,"y":7.5,"z":0.245},{"p":"b","x":2.6,"y":7.2,"z":0.2465},{"p":"b","x":2.6,"y":6.9,"z":0.2483},{"p":"b","x":2.6,"y":6.6,"z":0.2504},{"p":"b","x":2.6,"y":6.3,"z":0.2528},{"p":"b","x":2.6,"y":6,"z":0.2554},{"p":"b","x":2.6,"y":5.7,"z":0.2583},{"p":"b","x":2.6,"y":5.4,"z":0.2615},{"p":"b","x":2.6,"y":5.1,"z":0.265},{"p":"b","x":2.6,"y":4.8,"z":0.2687},{"p":"b","x":2.6,"y":4.5,"z":0.2728},{"p":"b","x":2.6,"y":4.2,"z":0.2771},{"p":"b","x":2.6,"y":3.9,"z":0.2817},{"p":"b","x":2.6,"y":3.6,"z":0.2865},{"p":"b","x":2.6,"y":3.3,"z":0.2917},{"p":"b","x":2.6,"y":3,"z":0.2971},
{"p":"b","x":2.7,"y":9,"z":0.2433},{"p":"b","x":2.7,"y":8.7,"z":0.2435},{"p":"b","x":2.7,"y":8.4,"z":0.244},{"p":"b","x":2.7,"y":8.1,"z":0.2448},{"p":"b","x":2.7,"y":7.8,"z":0.2458},{"p":"b","x":2.7,"y":7.5,"z":0.2472},{"p":"b","x":2.7,"y":7.2,"z":0.2488},{"p":"b","x":2.7,"y":6.9,"z":0.2507},{"p":"b","x":2.7,"y":6.6,"z":0.2529},{"p":"b","x":2.7,"y":6.3,"z":0.2553},{"p":"b","x":2.7,"y":6,"z":0.258},{"p":"b","x":2.7,"y":5.7,"z":0.2611},{"p":"b","x":2.7,"y":5.4,"z":0.2643},{"p":"b","x":2.7,"y":5.1,"z":0.2679},{"p":"b","x":2.7,"y":4.8,"z":0.2718},{"p":"b","x":2.7,"y":4.5,"z":0.2759},{"p":"b","x":2.7,"y":4.2,"z":0.2803},{"p":"b","x":2.7,"y":3.9,"z":0.285},{"p":"b","x":2.7,"y":3.6,"z":0.29},{"p":"b","x":2.7,"y":3.3,"z":0.2952},{"p":"b","x":2.7,"y":3,"z":0.3008},
{"p":"b","x":2.8,"y":9,"z":0.2451},{"p":"b","x":2.8,"y":8.7,"z":0.2454},{"p":"b","x":2.8,"y":8.4,"z":0.246},{"p":"b","x":2.8,"y":8.1,"z":0.2469},{"p":"b","x":2.8,"y":7.8,"z":0.2481},{"p":"b","x":2.8,"y":7.5,"z":0.2495},{"p":"b","x":2.8,"y":7.2,"z":0.2512},{"p":"b","x":2.8,"y":6.9,"z":0.2532},{"p":"b","x":2.8,"y":6.6,"z":0.2555},{"p":"b","x":2.8,"y":6.3,"z":0.258},{"p":"b","x":2.8,"y":6,"z":0.2609},{"p":"b","x":2.8,"y":5.7,"z":0.264},{"p":"b","x":2.8,"y":5.4,"z":0.2674},{"p":"b","x":2.8,"y":5.1,"z":0.271},{"p":"b","x":2.8,"y":4.8,"z":0.275},{"p":"b","x":2.8,"y":4.5,"z":0.2792},{"p":"b","x":2.8,"y":4.2,"z":0.2837},{"p":"b","x":2.8,"y":3.9,"z":0.2885},{"p":"b","x":2.8,"y":3.6,"z":0.2936},{"p":"b","x":2.8,"y":3.3,"z":0.299},{"p":"b","x":2.8,"y":3,"z":0.3046},
{"p":"b","x":2.9,"y":9,"z":0.2471},{"p":"b","x":2.9,"y":8.7,"z":0.2475},{"p":"b","x":2.9,"y":8.4,"z":0.2482},{"p":"b","x":2.9,"y":8.1,"z":0.2492},{"p":"b","x":2.9,"y":7.8,"z":0.2505},{"p":"b","x":2.9,"y":7.5,"z":0.252},{"p":"b","x":2.9,"y":7.2,"z":0.2538},{"p":"b","x":2.9,"y":6.9,"z":0.2559},{"p":"b","x":2.9,"y":6.6,"z":0.2583},{"p":"b","x":2.9,"y":6.3,"z":0.2609},{"p":"b","x":2.9,"y":6,"z":0.2639},{"p":"b","x":2.9,"y":5.7,"z":0.2671},{"p":"b","x":2.9,"y":5.4,"z":0.2706},{"p":"b","x":2.9,"y":5.1,"z":0.2744},{"p":"b","x":2.9,"y":4.8,"z":0.2784},{"p":"b","x":2.9,"y":4.5,"z":0.2827},{"p":"b","x":2.9,"y":4.2,"z":0.2874},{"p":"b","x":2.9,"y":3.9,"z":0.2923},{"p":"b","x":2.9,"y":3.6,"z":0.2974},{"p":"b","x":2.9,"y":3.3,"z":0.3029},{"p":"b","x":2.9,"y":3,"z":0.3086},
{"p":"b","x":3,"y":9,"z":0.2493},{"p":"b","x":3,"y":8.7,"z":0.2498},{"p":"b","x":3,"y":8.4,"z":0.2506},{"p":"b","x":3,"y":8.1,"z":0.2517},{"p":"b","x":3,"y":7.8,"z":0.253},{"p":"b","x":3,"y":7.5,"z":0.2547},{"p":"b","x":3,"y":7.2,"z":0.2566},{"p":"b","x":3,"y":6.9,"z":0.2588},{"p":"b","x":3,"y":6.6,"z":0.2613},{"p":"b","x":3,"y":6.3,"z":0.264},{"p":"b","x":3,"y":6,"z":0.2671},{"p":"b","x":3,"y":5.7,"z":0.2704},{"p":"b","x":3,"y":5.4,"z":0.274},{"p":"b","x":3,"y":5.1,"z":0.2778},{"p":"b","x":3,"y":4.8,"z":0.282},{"p":"b","x":3,"y":4.5,"z":0.2864},{"p":"b","x":3,"y":4.2,"z":0.2911},{"p":"b","x":3,"y":3.9,"z":0.2961},{"p":"b","x":3,"y":3.6,"z":0.3014},{"p":"b","x":3,"y":3.3,"z":0.307},{"p":"b","x":3,"y":3,"z":0.3128},
{"p":"b","x":3.1,"y":9,"z":0.2517},{"p":"b","x":3.1,"y":8.7,"z":0.2523},{"p":"b","x":3.1,"y":8.4,"z":0.2532},{"p":"b","x":3.1,"y":8.1,"z":0.2544},{"p":"b","x":3.1,"y":7.8,"z":0.2558},{"p":"b","x":3.1,"y":7.5,"z":0.2575},{"p":"b","x":3.1,"y":7.2,"z":0.2596},{"p":"b","x":3.1,"y":6.9,"z":0.2619},{"p":"b","x":3.1,"y":6.6,"z":0.2644},{"p":"b","x":3.1,"y":6.3,"z":0.2673},{"p":"b","x":3.1,"y":6,"z":0.2704},{"p":"b","x":3.1,"y":5.7,"z":0.2738},{"p":"b","x":3.1,"y":5.4,"z":0.2775},{"p":"b","x":3.1,"y":5.1,"z":0.2815},{"p":"b","x":3.1,"y":4.8,"z":0.2858},{"p":"b","x":3.1,"y":4.5,"z":0.2903},{"p":"b","x":3.1,"y":4.2,"z":0.2951},{"p":"b","x":3.1,"y":3.9,"z":0.3002},{"p":"b","x":3.1,"y":3.6,"z":0.3056},{"p":"b","x":3.1,"y":3.3,"z":0.3112},{"p":"b","x":3.1,"y":3,"z":0.3172},
{"p":"b","x":3.2,"y":9,"z":0.2542},{"p":"b","x":3.2,"y":8.7,"z":0.2549},{"p":"b","x":3.2,"y":8.4,"z":0.2559},{"p":"b","x":3.2,"y":8.1,"z":0.2572},{"p":"b","x":3.2,"y":7.8,"z":0.2587},{"p":"b","x":3.2,"y":7.5,"z":0.2606},{"p":"b","x":3.2,"y":7.2,"z":0.2627},{"p":"b","x":3.2,"y":6.9,"z":0.2651},{"p":"b","x":3.2,"y":6.6,"z":0.2678},{"p":"b","x":3.2,"y":6.3,"z":0.2707},{"p":"b","x":3.2,"y":6,"z":0.274},{"p":"b","x":3.2,"y":5.7,"z":0.2775},{"p":"b","x":3.2,"y":5.4,"z":0.2813},{"p":"b","x":3.2,"y":5.1,"z":0.2854},{"p":"b","x":3.2,"y":4.8,"z":0.2897},{"p":"b","x":3.2,"y":4.5,"z":0.2943},{"p":"b","x":3.2,"y":4.2,"z":0.2993},{"p":"b","x":3.2,"y":3.9,"z":0.3045},{"p":"b","x":3.2,"y":3.6,"z":0.3099},{"p":"b","x":3.2,"y":3.3,"z":0.3157},{"p":"b","x":3.2,"y":3,"z":0.3217},
{"p":"b","x":3.3,"y":9,"z":0.2569},{"p":"b","x":3.3,"y":8.7,"z":0.2577},{"p":"b","x":3.3,"y":8.4,"z":0.2588},{"p":"b","x":3.3,"y":8.1,"z":0.2602},{"p":"b","x":3.3,"y":7.8,"z":0.2619},{"p":"b","x":3.3,"y":7.5,"z":0.2638},{"p":"b","x":3.3,"y":7.2,"z":0.266},{"p":"b","x":3.3,"y":6.9,"z":0.2685},{"p":"b","x":3.3,"y":6.6,"z":0.2713},{"p":"b","x":3.3,"y":6.3,"z":0.2744},{"p":"b","x":3.3,"y":6,"z":0.2777},{"p":"b","x":3.3,"y":5.7,"z":0.2813},{"p":"b","x":3.3,"y":5.4,"z":0.2852},{"p":"b","x":3.3,"y":5.1,"z":0.2894},{"p":"b","x":3.3,"y":4.8,"z":0.2938},{"p":"b","x":3.3,"y":4.5,"z":0.2986},{"p":"b","x":3.3,"y":4.2,"z":0.3036},{"p":"b","x":3.3,"y":3.9,"z":0.3089},{"p":"b","x":3.3,"y":3.6,"z":0.3145},{"p":"b","x":3.3,"y":3.3,"z":0.3203},{"p":"b","x":3.3,"y":3,"z":0.3265},
{"p":"b","x":3.4,"y":9,"z":0.2598},{"p":"b","x":3.4,"y":8.7,"z":0.2607},{"p":"b","x":3.4,"y":8.4,"z":0.2619},{"p":"b","x":3.4,"y":8.1,"z":0.2634},{"p":"b","x":3.4,"y":7.8,"z":0.2652},{"p":"b","x":3.4,"y":7.5,"z":0.2672},{"p":"b","x":3.4,"y":7.2,"z":0.2695},{"p":"b","x":3.4,"y":6.9,"z":0.2721},{"p":"b","x":3.4,"y":6.6,"z":0.275},{"p":"b","x":3.4,"y":6.3,"z":0.2782},{"p":"b","x":3.4,"y":6,"z":0.2816},{"p":"b","x":3.4,"y":5.7,"z":0.2853},{"p":"b","x":3.4,"y":5.4,"z":0.2893},{"p":"b","x":3.4,"y":5.1,"z":0.2936},{"p":"b","x":3.4,"y":4.8,"z":0.2981},{"p":"b","x":3.4,"y":4.5,"z":0.303},{"p":"b","x":3.4,"y":4.2,"z":0.3081},{"p":"b","x":3.4,"y":3.9,"z":0.3135},{"p":"b","x":3.4,"y":3.6,"z":0.3192},{"p":"b","x":3.4,"y":3.3,"z":0.3251},{"p":"b","x":3.4,"y":3,"z":0.3314},
{"p":"b","x":3.5,"y":9,"z":0.2629},{"p":"b","x":3.5,"y":8.7,"z":0.2639},{"p":"b","x":3.5,"y":8.4,"z":0.2652},{"p":"b","x":3.5,"y":8.1,"z":0.2668},{"p":"b","x":3.5,"y":7.8,"z":0.2687},{"p":"b","x":3.5,"y":7.5,"z":0.2708},{"p":"b","x":3.5,"y":7.2,"z":0.2732},{"p":"b","x":3.5,"y":6.9,"z":0.2759},{"p":"b","x":3.5,"y":6.6,"z":0.2789},{"p":"b","x":3.5,"y":6.3,"z":0.2821},{"p":"b","x":3.5,"y":6,"z":0.2857},{"p":"b","x":3.5,"y":5.7,"z":0.2895},{"p":"b","x":3.5,"y":5.4,"z":0.2936},{"p":"b","x":3.5,"y":5.1,"z":0.298},{"p":"b","x":3.5,"y":4.8,"z":0.3026},{"p":"b","x":3.5,"y":4.5,"z":0.3076},{"p":"b","x":3.5,"y":4.2,"z":0.3128},{"p":"b","x":3.5,"y":3.9,"z":0.3183},{"p":"b","x":3.5,"y":3.6,"z":0.3241},{"p":"b","x":3.5,"y":3.3,"z":0.3301},{"p":"b","x":3.5,"y":3,"z":0.3365},
{"p":"b","x":3.6,"y":9,"z":0.2662},{"p":"b","x":3.6,"y":8.7,"z":0.2673},{"p":"b","x":3.6,"y":8.4,"z":0.2687},{"p":"b","x":3.6,"y":8.1,"z":0.2704},{"p":"b","x":3.6,"y":7.8,"z":0.2723},{"p":"b","x":3.6,"y":7.5,"z":0.2746},{"p":"b","x":3.6,"y":7.2,"z":0.2771},{"p":"b","x":3.6,"y":6.9,"z":0.2799},{"p":"b","x":3.6,"y":6.6,"z":0.2829},{"p":"b","x":3.6,"y":6.3,"z":0.2863},{"p":"b","x":3.6,"y":6,"z":0.2899},{"p":"b","x":3.6,"y":5.7,"z":0.2939},{"p":"b","x":3.6,"y":5.4,"z":0.2981},{"p":"b","x":3.6,"y":5.1,"z":0.3025},{"p":"b","x":3.6,"y":4.8,"z":0.3073},{"p":"b","x":3.6,"y":4.5,"z":0.3123},{"p":"b","x":3.6,"y":4.2,"z":0.3177},{"p":"b","x":3.6,"y":3.9,"z":0.3233},{"p":"b","x":3.6,"y":3.6,"z":0.3291},{"p":"b","x":3.6,"y":3.3,"z":0.3353},{"p":"b","x":3.6,"y":3,"z":0.3417},
{"p":"b","x":3.7,"y":9,"z":0.2696},{"p":"b","x":3.7,"y":8.7,"z":0.2708},{"p":"b","x":3.7,"y":8.4,"z":0.2723},{"p":"b","x":3.7,"y":8.1,"z":0.2741},{"p":"b","x":3.7,"y":7.8,"z":0.2762},{"p":"b","x":3.7,"y":7.5,"z":0.2785},{"p":"b","x":3.7,"y":7.2,"z":0.2811},{"p":"b","x":3.7,"y":6.9,"z":0.284},{"p":"b","x":3.7,"y":6.6,"z":0.2872},{"p":"b","x":3.7,"y":6.3,"z":0.2907},{"p":"b","x":3.7,"y":6,"z":0.2944},{"p":"b","x":3.7,"y":5.7,"z":0.2984},{"p":"b","x":3.7,"y":5.4,"z":0.3027},{"p":"b","x":3.7,"y":5.1,"z":0.3073},{"p":"b","x":3.7,"y":4.8,"z":0.3121},{"p":"b","x":3.7,"y":4.5,"z":0.3173},{"p":"b","x":3.7,"y":4.2,"z":0.3227},{"p":"b","x":3.7,"y":3.9,"z":0.3284},{"p":"b","x":3.7,"y":3.6,"z":0.3344},{"p":"b","x":3.7,"y":3.3,"z":0.3406},{"p":"b","x":3.7,"y":3,"z":0.3472},
{"p":"b","x":3.8,"y":9,"z":0.2732},{"p":"b","x":3.8,"y":8.7,"z":0.2745},{"p":"b","x":3.8,"y":8.4,"z":0.2761},{"p":"b","x":3.8,"y":8.1,"z":0.278},{"p":"b","x":3.8,"y":7.8,"z":0.2802},{"p":"b","x":3.8,"y":7.5,"z":0.2826},{"p":"b","x":3.8,"y":7.2,"z":0.2853},{"p":"b","x":3.8,"y":6.9,"z":0.2883},{"p":"b","x":3.8,"y":6.6,"z":0.2916},{"p":"b","x":3.8,"y":6.3,"z":0.2952},{"p":"b","x":3.8,"y":6,"z":0.299},{"p":"b","x":3.8,"y":5.7,"z":0.3031},{"p":"b","x":3.8,"y":5.4,"z":0.3075},{"p":"b","x":3.8,"y":5.1,"z":0.3122},{"p":"b","x":3.8,"y":4.8,"z":0.3172},{"p":"b","x":3.8,"y":4.5,"z":0.3224},{"p":"b","x":3.8,"y":4.2,"z":0.3279},{"p":"b","x":3.8,"y":3.9,"z":0.3337},{"p":"b","x":3.8,"y":3.6,"z":0.3398},{"p":"b","x":3.8,"y":3.3,"z":0.3462},{"p":"b","x":3.8,"y":3,"z":0.3528},
{"p":"b","x":3.9,"y":9,"z":0.277},{"p":"b","x":3.9,"y":8.7,"z":0.2784},{"p":"b","x":3.9,"y":8.4,"z":0.2801},{"p":"b","x":3.9,"y":8.1,"z":0.2821},{"p":"b","x":3.9,"y":7.8,"z":0.2844},{"p":"b","x":3.9,"y":7.5,"z":0.2869},{"p":"b","x":3.9,"y":7.2,"z":0.2897},{"p":"b","x":3.9,"y":6.9,"z":0.2928},{"p":"b","x":3.9,"y":6.6,"z":0.2962},{"p":"b","x":3.9,"y":6.3,"z":0.2999},{"p":"b","x":3.9,"y":6,"z":0.3038},{"p":"b","x":3.9,"y":5.7,"z":0.308},{"p":"b","x":3.9,"y":5.4,"z":0.3125},{"p":"b","x":3.9,"y":5.1,"z":0.3173},{"p":"b","x":3.9,"y":4.8,"z":0.3224},{"p":"b","x":3.9,"y":4.5,"z":0.3277},{"p":"b","x":3.9,"y":4.2,"z":0.3333},{"p":"b","x":3.9,"y":3.9,"z":0.3392},{"p":"b","x":3.9,"y":3.6,"z":0.3454},{"p":"b","x":3.9,"y":3.3,"z":0.3519},{"p":"b","x":3.9,"y":3,"z":0.3586},
{"p":"b","x":4,"y":9,"z":0.281},{"p":"b","x":4,"y":8.7,"z":0.2825},{"p":"b","x":4,"y":8.4,"z":0.2843},{"p":"b","x":4,"y":8.1,"z":0.2864},{"p":"b","x":4,"y":7.8,"z":0.2888},{"p":"b","x":4,"y":7.5,"z":0.2914},{"p":"b","x":4,"y":7.2,"z":0.2943},{"p":"b","x":4,"y":6.9,"z":0.2975},{"p":"b","x":4,"y":6.6,"z":0.301},{"p":"b","x":4,"y":6.3,"z":0.3048},{"p":"b","x":4,"y":6,"z":0.3088},{"p":"b","x":4,"y":5.7,"z":0.3131},{"p":"b","x":4,"y":5.4,"z":0.3177},{"p":"b","x":4,"y":5.1,"z":0.3226},{"p":"b","x":4,"y":4.8,"z":0.3278},{"p":"b","x":4,"y":4.5,"z":0.3332},{"p":"b","x":4,"y":4.2,"z":0.3389},{"p":"b","x":4,"y":3.9,"z":0.3449},{"p":"b","x":4,"y":3.6,"z":0.3512},{"p":"b","x":4,"y":3.3,"z":0.3578},{"p":"b","x":4,"y":3,"z":0.3646},

{"p":"c","x":87.5,"y":9,"z":0.2374},{"p":"c","x":87.5,"y":8.7,"z":0.2377},{"p":"c","x":87.5,"y":8.4,"z":0.2383},{"p":"c","x":87.5,"y":8.1,"z":0.2391},{"p":"c","x":87.5,"y":7.8,"z":0.2401},{"p":"c","x":87.5,"y":7.5,"z":0.2414},{"p":"c","x":87.5,"y":7.2,"z":0.243},{"p":"c","x":87.5,"y":6.9,"z":0.2448},{"p":"c","x":87.5,"y":6.6,"z":0.2468},{"p":"c","x":87.5,"y":6.3,"z":0.2491},{"p":"c","x":87.5,"y":6,"z":0.2517},{"p":"c","x":87.5,"y":5.7,"z":0.2545},{"p":"c","x":87.5,"y":5.4,"z":0.2576},{"p":"c","x":87.5,"y":5.1,"z":0.2609},{"p":"c","x":87.5,"y":4.8,"z":0.2644},{"p":"c","x":87.5,"y":4.5,"z":0.2682},{"p":"c","x":87.5,"y":4.2,"z":0.2723},{"p":"c","x":87.5,"y":3.9,"z":0.2766},{"p":"c","x":87.5,"y":3.6,"z":0.2811},{"p":"c","x":87.5,"y":3.3,"z":0.2859},{"p":"c","x":87.5,"y":3,"z":0.291},
{"p":"c","x":88,"y":9,"z":0.2385},{"p":"c","x":88,"y":8.7,"z":0.2389},{"p":"c","x":88,"y":8.4,"z":0.2395},{"p":"c","x":88,"y":8.1,"z":0.2403},{"p":"c","x":88,"y":7.8,"z":0.2414},{"p":"c","x":88,"y":7.5,"z":0.2428},{"p":"c","x":88,"y":7.2,"z":0.2444},{"p":"c","x":88,"y":6.9,"z":0.2462},{"p":"c","x":88,"y":6.6,"z":0.2483},{"p":"c","x":88,"y":6.3,"z":0.2507},{"p":"c","x":88,"y":6,"z":0.2533},{"p":"c","x":88,"y":5.7,"z":0.2561},{"p":"c","x":88,"y":5.4,"z":0.2592},{"p":"c","x":88,"y":5.1,"z":0.2625},{"p":"c","x":88,"y":4.8,"z":0.2661},{"p":"c","x":88,"y":4.5,"z":0.27},{"p":"c","x":88,"y":4.2,"z":0.2741},{"p":"c","x":88,"y":3.9,"z":0.2784},{"p":"c","x":88,"y":3.6,"z":0.283},{"p":"c","x":88,"y":3.3,"z":0.2879},{"p":"c","x":88,"y":3,"z":0.293},
{"p":"c","x":88.5,"y":9,"z":0.2396},{"p":"c","x":88.5,"y":8.7,"z":0.24},{"p":"c","x":88.5,"y":8.4,"z":0.2407},{"p":"c","x":88.5,"y":8.1,"z":0.2416},{"p":"c","x":88.5,"y":7.8,"z":0.2427},{"p":"c","x":88.5,"y":7.5,"z":0.2441},{"p":"c","x":88.5,"y":7.2,"z":0.2457},{"p":"c","x":88.5,"y":6.9,"z":0.2476},{"p":"c","x":88.5,"y":6.6,"z":0.2498},{"p":"c","x":88.5,"y":6.3,"z":0.2522},{"p":"c","x":88.5,"y":6,"z":0.2548},{"p":"c","x":88.5,"y":5.7,"z":0.2577},{"p":"c","x":88.5,"y":5.4,"z":0.2608},{"p":"c","x":88.5,"y":5.1,"z":0.2642},{"p":"c","x":88.5,"y":4.8,"z":0.2679},{"p":"c","x":88.5,"y":4.5,"z":0.2718},{"p":"c","x":88.5,"y":4.2,"z":0.2759},{"p":"c","x":88.5,"y":3.9,"z":0.2803},{"p":"c","x":88.5,"y":3.6,"z":0.2849},{"p":"c","x":88.5,"y":3.3,"z":0.2898},{"p":"c","x":88.5,"y":3,"z":0.295},
{"p":"c","x":89,"y":9,"z":0.2408},{"p":"c","x":89,"y":8.7,"z":0.2412},{"p":"c","x":89,"y":8.4,"z":0.2419},{"p":"c","x":89,"y":8.1,"z":0.2428},{"p":"c","x":89,"y":7.8,"z":0.244},{"p":"c","x":89,"y":7.5,"z":0.2454},{"p":"c","x":89,"y":7.2,"z":0.2471},{"p":"c","x":89,"y":6.9,"z":0.249},{"p":"c","x":89,"y":6.6,"z":0.2512},{"p":"c","x":89,"y":6.3,"z":0.2537},{"p":"c","x":89,"y":6,"z":0.2564},{"p":"c","x":89,"y":5.7,"z":0.2593},{"p":"c","x":89,"y":5.4,"z":0.2625},{"p":"c","x":89,"y":5.1,"z":0.2659},{"p":"c","x":89,"y":4.8,"z":0.2696},{"p":"c","x":89,"y":4.5,"z":0.2735},{"p":"c","x":89,"y":4.2,"z":0.2777},{"p":"c","x":89,"y":3.9,"z":0.2821},{"p":"c","x":89,"y":3.6,"z":0.2868},{"p":"c","x":89,"y":3.3,"z":0.2918},{"p":"c","x":89,"y":3,"z":0.2969},
{"p":"c","x":89.5,"y":9,"z":0.2419},{"p":"c","x":89.5,"y":8.7,"z":0.2423},{"p":"c","x":89.5,"y":8.4,"z":0.2431},{"p":"c","x":89.5,"y":8.1,"z":0.2441},{"p":"c","x":89.5,"y":7.8,"z":0.2453},{"p":"c","x":89.5,"y":7.5,"z":0.2468},{"p":"c","x":89.5,"y":7.2,"z":0.2485},{"p":"c","x":89.5,"y":6.9,"z":0.2505},{"p":"c","x":89.5,"y":6.6,"z":0.2527},{"p":"c","x":89.5,"y":6.3,"z":0.2552},{"p":"c","x":89.5,"y":6,"z":0.2579},{"p":"c","x":89.5,"y":5.7,"z":0.2609},{"p":"c","x":89.5,"y":5.4,"z":0.2641},{"p":"c","x":89.5,"y":5.1,"z":0.2676},{"p":"c","x":89.5,"y":4.8,"z":0.2713},{"p":"c","x":89.5,"y":4.5,"z":0.2753},{"p":"c","x":89.5,"y":4.2,"z":0.2795},{"p":"c","x":89.5,"y":3.9,"z":0.284},{"p":"c","x":89.5,"y":3.6,"z":0.2887},{"p":"c","x":89.5,"y":3.3,"z":0.2937},{"p":"c","x":89.5,"y":3,"z":0.2989},
{"p":"c","x":90,"y":9,"z":0.243},{"p":"c","x":90,"y":8.7,"z":0.2435},{"p":"c","x":90,"y":8.4,"z":0.2443},{"p":"c","x":90,"y":8.1,"z":0.2453},{"p":"c","x":90,"y":7.8,"z":0.2466},{"p":"c","x":90,"y":7.5,"z":0.2481},{"p":"c","x":90,"y":7.2,"z":0.2499},{"p":"c","x":90,"y":6.9,"z":0.2519},{"p":"c","x":90,"y":6.6,"z":0.2541},{"p":"c","x":90,"y":6.3,"z":0.2567},{"p":"c","x":90,"y":6,"z":0.2595},{"p":"c","x":90,"y":5.7,"z":0.2625},{"p":"c","x":90,"y":5.4,"z":0.2658},{"p":"c","x":90,"y":5.1,"z":0.2693},{"p":"c","x":90,"y":4.8,"z":0.273},{"p":"c","x":90,"y":4.5,"z":0.2771},{"p":"c","x":90,"y":4.2,"z":0.2813},{"p":"c","x":90,"y":3.9,"z":0.2858},{"p":"c","x":90,"y":3.6,"z":0.2906},{"p":"c","x":90,"y":3.3,"z":0.2956},{"p":"c","x":90,"y":3,"z":0.3009},
{"p":"c","x":90.5,"y":9,"z":0.2441},{"p":"c","x":90.5,"y":8.7,"z":0.2447},{"p":"c","x":90.5,"y":8.4,"z":0.2455},{"p":"c","x":90.5,"y":8.1,"z":0.2466},{"p":"c","x":90.5,"y":7.8,"z":0.2479},{"p":"c","x":90.5,"y":7.5,"z":0.2495},{"p":"c","x":90.5,"y":7.2,"z":0.2513},{"p":"c","x":90.5,"y":6.9,"z":0.2533},{"p":"c","x":90.5,"y":6.6,"z":0.2556},{"p":"c","x":90.5,"y":6.3,"z":0.2582},{"p":"c","x":90.5,"y":6,"z":0.261},{"p":"c","x":90.5,"y":5.7,"z":0.264},{"p":"c","x":90.5,"y":5.4,"z":0.2674},{"p":"c","x":90.5,"y":5.1,"z":0.2709},{"p":"c","x":90.5,"y":4.8,"z":0.2747},{"p":"c","x":90.5,"y":4.5,"z":0.2788},{"p":"c","x":90.5,"y":4.2,"z":0.2831},{"p":"c","x":90.5,"y":3.9,"z":0.2877},{"p":"c","x":90.5,"y":3.6,"z":0.2925},{"p":"c","x":90.5,"y":3.3,"z":0.2976},{"p":"c","x":90.5,"y":3,"z":0.3029},
{"p":"c","x":91,"y":9,"z":0.2452},{"p":"c","x":91,"y":8.7,"z":0.2458},{"p":"c","x":91,"y":8.4,"z":0.2467},{"p":"c","x":91,"y":8.1,"z":0.2478},{"p":"c","x":91,"y":7.8,"z":0.2492},{"p":"c","x":91,"y":7.5,"z":0.2508},{"p":"c","x":91,"y":7.2,"z":0.2526},{"p":"c","x":91,"y":6.9,"z":0.2547},{"p":"c","x":91,"y":6.6,"z":0.2571},{"p":"c","x":91,"y":6.3,"z":0.2597},{"p":"c","x":91,"y":6,"z":0.2626},{"p":"c","x":91,"y":5.7,"z":0.2656},{"p":"c","x":91,"y":5.4,"z":0.269},{"p":"c","x":91,"y":5.1,"z":0.2726},{"p":"c","x":91,"y":4.8,"z":0.2765},{"p":"c","x":91,"y":4.5,"z":0.2806},{"p":"c","x":91,"y":4.2,"z":0.285},{"p":"c","x":91,"y":3.9,"z":0.2895},{"p":"c","x":91,"y":3.6,"z":0.2944},{"p":"c","x":91,"y":3.3,"z":0.2995},{"p":"c","x":91,"y":3,"z":0.3049},
{"p":"c","x":91.5,"y":9,"z":0.2464},{"p":"c","x":91.5,"y":8.7,"z":0.247},{"p":"c","x":91.5,"y":8.4,"z":0.2479},{"p":"c","x":91.5,"y":8.1,"z":0.2491},{"p":"c","x":91.5,"y":7.8,"z":0.2504},{"p":"c","x":91.5,"y":7.5,"z":0.2521},{"p":"c","x":91.5,"y":7.2,"z":0.254},{"p":"c","x":91.5,"y":6.9,"z":0.2561},{"p":"c","x":91.5,"y":6.6,"z":0.2585},{"p":"c","x":91.5,"y":6.3,"z":0.2612},{"p":"c","x":91.5,"y":6,"z":0.2641},{"p":"c","x":91.5,"y":5.7,"z":0.2672},{"p":"c","x":91.5,"y":5.4,"z":0.2707},{"p":"c","x":91.5,"y":5.1,"z":0.2743},{"p":"c","x":91.5,"y":4.8,"z":0.2782},{"p":"c","x":91.5,"y":4.5,"z":0.2824},{"p":"c","x":91.5,"y":4.2,"z":0.2868},{"p":"c","x":91.5,"y":3.9,"z":0.2914},{"p":"c","x":91.5,"y":3.6,"z":0.2963},{"p":"c","x":91.5,"y":3.3,"z":0.3015},{"p":"c","x":91.5,"y":3,"z":0.3068},
{"p":"c","x":92,"y":9,"z":0.2475},{"p":"c","x":92,"y":8.7,"z":0.2481},{"p":"c","x":92,"y":8.4,"z":0.2492},{"p":"c","x":92,"y":8.1,"z":0.2503},{"p":"c","x":92,"y":7.8,"z":0.2517},{"p":"c","x":92,"y":7.5,"z":0.2535},{"p":"c","x":92,"y":7.2,"z":0.2554},{"p":"c","x":92,"y":6.9,"z":0.2576},{"p":"c","x":92,"y":6.6,"z":0.26},{"p":"c","x":92,"y":6.3,"z":0.2627},{"p":"c","x":92,"y":6,"z":0.2657},{"p":"c","x":92,"y":5.7,"z":0.2688},{"p":"c","x":92,"y":5.4,"z":0.2723},{"p":"c","x":92,"y":5.1,"z":0.276},{"p":"c","x":92,"y":4.8,"z":0.2799},{"p":"c","x":92,"y":4.5,"z":0.2842},{"p":"c","x":92,"y":4.2,"z":0.2886},{"p":"c","x":92,"y":3.9,"z":0.2932},{"p":"c","x":92,"y":3.6,"z":0.2982},{"p":"c","x":92,"y":3.3,"z":0.3034},{"p":"c","x":92,"y":3,"z":0.3088},
{"p":"c","x":92.5,"y":9,"z":0.2486},{"p":"c","x":92.5,"y":8.7,"z":0.2493},{"p":"c","x":92.5,"y":8.4,"z":0.2504},{"p":"c","x":92.5,"y":8.1,"z":0.2516},{"p":"c","x":92.5,"y":7.8,"z":0.253},{"p":"c","x":92.5,"y":7.5,"z":0.2548},{"p":"c","x":92.5,"y":7.2,"z":0.2568},{"p":"c","x":92.5,"y":6.9,"z":0.259},{"p":"c","x":92.5,"y":6.6,"z":0.2614},{"p":"c","x":92.5,"y":6.3,"z":0.2642},{"p":"c","x":92.5,"y":6,"z":0.2672},{"p":"c","x":92.5,"y":5.7,"z":0.2704},{"p":"c","x":92.5,"y":5.4,"z":0.274},{"p":"c","x":92.5,"y":5.1,"z":0.2777},{"p":"c","x":92.5,"y":4.8,"z":0.2816},{"p":"c","x":92.5,"y":4.5,"z":0.2859},{"p":"c","x":92.5,"y":4.2,"z":0.2904},{"p":"c","x":92.5,"y":3.9,"z":0.2951},{"p":"c","x":92.5,"y":3.6,"z":0.3},{"p":"c","x":92.5,"y":3.3,"z":0.3053},{"p":"c","x":92.5,"y":3,"z":0.3108},
{"p":"c","x":93,"y":9,"z":0.2497},{"p":"c","x":93,"y":8.7,"z":0.2505},{"p":"c","x":93,"y":8.4,"z":0.2516},{"p":"c","x":93,"y":8.1,"z":0.2528},{"p":"c","x":93,"y":7.8,"z":0.2543},{"p":"c","x":93,"y":7.5,"z":0.2562},{"p":"c","x":93,"y":7.2,"z":0.2582},{"p":"c","x":93,"y":6.9,"z":0.2604},{"p":"c","x":93,"y":6.6,"z":0.2629},{"p":"c","x":93,"y":6.3,"z":0.2658},{"p":"c","x":93,"y":6,"z":0.2688},{"p":"c","x":93,"y":5.7,"z":0.272},{"p":"c","x":93,"y":5.4,"z":0.2756},{"p":"c","x":93,"y":5.1,"z":0.2793},{"p":"c","x":93,"y":4.8,"z":0.2833},{"p":"c","x":93,"y":4.5,"z":0.2877},{"p":"c","x":93,"y":4.2,"z":0.2922},{"p":"c","x":93,"y":3.9,"z":0.2969},{"p":"c","x":93,"y":3.6,"z":0.3019},{"p":"c","x":93,"y":3.3,"z":0.3073},{"p":"c","x":93,"y":3,"z":0.3128},
{"p":"c","x":93.5,"y":9,"z":0.2508},{"p":"c","x":93.5,"y":8.7,"z":0.2516},{"p":"c","x":93.5,"y":8.4,"z":0.2528},{"p":"c","x":93.5,"y":8.1,"z":0.2541},{"p":"c","x":93.5,"y":7.8,"z":0.2556},{"p":"c","x":93.5,"y":7.5,"z":0.2575},{"p":"c","x":93.5,"y":7.2,"z":0.2595},{"p":"c","x":93.5,"y":6.9,"z":0.2618},{"p":"c","x":93.5,"y":6.6,"z":0.2644},{"p":"c","x":93.5,"y":6.3,"z":0.2673},{"p":"c","x":93.5,"y":6,"z":0.2703},{"p":"c","x":93.5,"y":5.7,"z":0.2736},{"p":"c","x":93.5,"y":5.4,"z":0.2772},{"p":"c","x":93.5,"y":5.1,"z":0.281},{"p":"c","x":93.5,"y":4.8,"z":0.2851},{"p":"c","x":93.5,"y":4.5,"z":0.2895},{"p":"c","x":93.5,"y":4.2,"z":0.294},{"p":"c","x":93.5,"y":3.9,"z":0.2988},{"p":"c","x":93.5,"y":3.6,"z":0.3038},{"p":"c","x":93.5,"y":3.3,"z":0.3092},{"p":"c","x":93.5,"y":3,"z":0.3148},
{"p":"c","x":94,"y":9,"z":0.252},{"p":"c","x":94,"y":8.7,"z":0.2528},{"p":"c","x":94,"y":8.4,"z":0.254},{"p":"c","x":94,"y":8.1,"z":0.2553},{"p":"c","x":94,"y":7.8,"z":0.2569},{"p":"c","x":94,"y":7.5,"z":0.2588},{"p":"c","x":94,"y":7.2,"z":0.2609},{"p":"c","x":94,"y":6.9,"z":0.2632},{"p":"c","x":94,"y":6.6,"z":0.2658},{"p":"c","x":94,"y":6.3,"z":0.2688},{"p":"c","x":94,"y":6,"z":0.2719},{"p":"c","x":94,"y":5.7,"z":0.2752},{"p":"c","x":94,"y":5.4,"z":0.2789},{"p":"c","x":94,"y":5.1,"z":0.2827},{"p":"c","x":94,"y":4.8,"z":0.2868},{"p":"c","x":94,"y":4.5,"z":0.2912},{"p":"c","x":94,"y":4.2,"z":0.2958},{"p":"c","x":94,"y":3.9,"z":0.3006},{"p":"c","x":94,"y":3.6,"z":0.3057},{"p":"c","x":94,"y":3.3,"z":0.3112},{"p":"c","x":94,"y":3,"z":0.3167},
{"p":"c","x":94.5,"y":9,"z":0.2531},{"p":"c","x":94.5,"y":8.7,"z":0.2539},{"p":"c","x":94.5,"y":8.4,"z":0.2552},{"p":"c","x":94.5,"y":8.1,"z":0.2566},{"p":"c","x":94.5,"y":7.8,"z":0.2582},{"p":"c","x":94.5,"y":7.5,"z":0.2602},{"p":"c","x":94.5,"y":7.2,"z":0.2623},{"p":"c","x":94.5,"y":6.9,"z":0.2647},{"p":"c","x":94.5,"y":6.6,"z":0.2673},{"p":"c","x":94.5,"y":6.3,"z":0.2703},{"p":"c","x":94.5,"y":6,"z":0.2734},{"p":"c","x":94.5,"y":5.7,"z":0.2768},{"p":"c","x":94.5,"y":5.4,"z":0.2805},{"p":"c","x":94.5,"y":5.1,"z":0.2844},{"p":"c","x":94.5,"y":4.8,"z":0.2885},{"p":"c","x":94.5,"y":4.5,"z":0.293},{"p":"c","x":94.5,"y":4.2,"z":0.2976},{"p":"c","x":94.5,"y":3.9,"z":0.3025},{"p":"c","x":94.5,"y":3.6,"z":0.3076},{"p":"c","x":94.5,"y":3.3,"z":0.3131},{"p":"c","x":94.5,"y":3,"z":0.3187},
{"p":"c","x":95,"y":9,"z":0.2542},{"p":"c","x":95,"y":8.7,"z":0.2551},{"p":"c","x":95,"y":8.4,"z":0.2564},{"p":"c","x":95,"y":8.1,"z":0.2578},{"p":"c","x":95,"y":7.8,"z":0.2595},{"p":"c","x":95,"y":7.5,"z":0.2615},{"p":"c","x":95,"y":7.2,"z":0.2637},{"p":"c","x":95,"y":6.9,"z":0.2661},{"p":"c","x":95,"y":6.6,"z":0.2687},{"p":"c","x":95,"y":6.3,"z":0.2718},{"p":"c","x":95,"y":6,"z":0.275},{"p":"c","x":95,"y":5.7,"z":0.2784},{"p":"c","x":95,"y":5.4,"z":0.2822},{"p":"c","x":95,"y":5.1,"z":0.2861},{"p":"c","x":95,"y":4.8,"z":0.2902},{"p":"c","x":95,"y":4.5,"z":0.2948},{"p":"c","x":95,"y":4.2,"z":0.2994},{"p":"c","x":95,"y":3.9,"z":0.3043},{"p":"c","x":95,"y":3.6,"z":0.3095},{"p":"c","x":95,"y":3.3,"z":0.315},{"p":"c","x":95,"y":3,"z":0.3207},
{"p":"c","x":95.5,"y":9,"z":0.2553},{"p":"c","x":95.5,"y":8.7,"z":0.2563},{"p":"c","x":95.5,"y":8.4,"z":0.2576},{"p":"c","x":95.5,"y":8.1,"z":0.2591},{"p":"c","x":95.5,"y":7.8,"z":0.2608},{"p":"c","x":95.5,"y":7.5,"z":0.2629},{"p":"c","x":95.5,"y":7.2,"z":0.2651},{"p":"c","x":95.5,"y":6.9,"z":0.2675},{"p":"c","x":95.5,"y":6.6,"z":0.2702},{"p":"c","x":95.5,"y":6.3,"z":0.2733},{"p":"c","x":95.5,"y":6,"z":0.2765},{"p":"c","x":95.5,"y":5.7,"z":0.2799},{"p":"c","x":95.5,"y":5.4,"z":0.2838},{"p":"c","x":95.5,"y":5.1,"z":0.2877},{"p":"c","x":95.5,"y":4.8,"z":0.2919},{"p":"c","x":95.5,"y":4.5,"z":0.2965},{"p":"c","x":95.5,"y":4.2,"z":0.3012},{"p":"c","x":95.5,"y":3.9,"z":0.3062},{"p":"c","x":95.5,"y":3.6,"z":0.3114},{"p":"c","x":95.5,"y":3.3,"z":0.317},{"p":"c","x":95.5,"y":3,"z":0.3227},
{"p":"c","x":96,"y":9,"z":0.2564},{"p":"c","x":96,"y":8.7,"z":0.2574},{"p":"c","x":96,"y":8.4,"z":0.2588},{"p":"c","x":96,"y":8.1,"z":0.2603},{"p":"c","x":96,"y":7.8,"z":0.2621},{"p":"c","x":96,"y":7.5,"z":0.2642},{"p":"c","x":96,"y":7.2,"z":0.2664},{"p":"c","x":96,"y":6.9,"z":0.2689},{"p":"c","x":96,"y":6.6,"z":0.2717},{"p":"c","x":96,"y":6.3,"z":0.2748},{"p":"c","x":96,"y":6,"z":0.2781},{"p":"c","x":96,"y":5.7,"z":0.2815},{"p":"c","x":96,"y":5.4,"z":0.2854},{"p":"c","x":96,"y":5.1,"z":0.2894},{"p":"c","x":96,"y":4.8,"z":0.2937},{"p":"c","x":96,"y":4.5,"z":0.2983},{"p":"c","x":96,"y":4.2,"z":0.3031},{"p":"c","x":96,"y":3.9,"z":0.308},{"p":"c","x":96,"y":3.6,"z":0.3133},{"p":"c","x":96,"y":3.3,"z":0.3189},{"p":"c","x":96,"y":3,"z":0.3247},
{"p":"c","x":96.5,"y":9,"z":0.2576},{"p":"c","x":96.5,"y":8.7,"z":0.2586},{"p":"c","x":96.5,"y":8.4,"z":0.26},{"p":"c","x":96.5,"y":8.1,"z":0.2616},{"p":"c","x":96.5,"y":7.8,"z":0.2633},{"p":"c","x":96.5,"y":7.5,"z":0.2655},{"p":"c","x":96.5,"y":7.2,"z":0.2678},{"p":"c","x":96.5,"y":6.9,"z":0.2703},{"p":"c","x":96.5,"y":6.6,"z":0.2731},{"p":"c","x":96.5,"y":6.3,"z":0.2763},{"p":"c","x":96.5,"y":6,"z":0.2796},{"p":"c","x":96.5,"y":5.7,"z":0.2831},{"p":"c","x":96.5,"y":5.4,"z":0.2871},{"p":"c","x":96.5,"y":5.1,"z":0.2911},{"p":"c","x":96.5,"y":4.8,"z":0.2954},{"p":"c","x":96.5,"y":4.5,"z":0.3001},{"p":"c","x":96.5,"y":4.2,"z":0.3049},{"p":"c","x":96.5,"y":3.9,"z":0.3099},{"p":"c","x":96.5,"y":3.6,"z":0.3152},{"p":"c","x":96.5,"y":3.3,"z":0.3209},{"p":"c","x":96.5,"y":3,"z":0.3266},
{"p":"c","x":97,"y":9,"z":0.2587},{"p":"c","x":97,"y":8.7,"z":0.2597},{"p":"c","x":97,"y":8.4,"z":0.2613},{"p":"c","x":97,"y":8.1,"z":0.2628},{"p":"c","x":97,"y":7.8,"z":0.2646},{"p":"c","x":97,"y":7.5,"z":0.2669},{"p":"c","x":97,"y":7.2,"z":0.2692},{"p":"c","x":97,"y":6.9,"z":0.2718},{"p":"c","x":97,"y":6.6,"z":0.2746},{"p":"c","x":97,"y":6.3,"z":0.2778},{"p":"c","x":97,"y":6,"z":0.2812},{"p":"c","x":97,"y":5.7,"z":0.2847},{"p":"c","x":97,"y":5.4,"z":0.2887},{"p":"c","x":97,"y":5.1,"z":0.2928},{"p":"c","x":97,"y":4.8,"z":0.2971},{"p":"c","x":97,"y":4.5,"z":0.3019},{"p":"c","x":97,"y":4.2,"z":0.3067},{"p":"c","x":97,"y":3.9,"z":0.3117},{"p":"c","x":97,"y":3.6,"z":0.3171},{"p":"c","x":97,"y":3.3,"z":0.3228},{"p":"c","x":97,"y":3,"z":0.3286},
{"p":"c","x":97.5,"y":9,"z":0.2598},{"p":"c","x":97.5,"y":8.7,"z":0.2609},{"p":"c","x":97.5,"y":8.4,"z":0.2625},{"p":"c","x":97.5,"y":8.1,"z":0.2641},{"p":"c","x":97.5,"y":7.8,"z":0.2659},{"p":"c","x":97.5,"y":7.5,"z":0.2682},{"p":"c","x":97.5,"y":7.2,"z":0.2706},{"p":"c","x":97.5,"y":6.9,"z":0.2732},{"p":"c","x":97.5,"y":6.6,"z":0.276},{"p":"c","x":97.5,"y":6.3,"z":0.2793},{"p":"c","x":97.5,"y":6,"z":0.2827},{"p":"c","x":97.5,"y":5.7,"z":0.2863},{"p":"c","x":97.5,"y":5.4,"z":0.2904},{"p":"c","x":97.5,"y":5.1,"z":0.2945},{"p":"c","x":97.5,"y":4.8,"z":0.2988},{"p":"c","x":97.5,"y":4.5,"z":0.3036},{"p":"c","x":97.5,"y":4.2,"z":0.3085},{"p":"c","x":97.5,"y":3.9,"z":0.3136},{"p":"c","x":97.5,"y":3.6,"z":0.3189},{"p":"c","x":97.5,"y":3.3,"z":0.3247},{"p":"c","x":97.5,"y":3,"z":0.3306},

{"p":"a","k":"floor","x":2,"y":87.5,"z":0.1378},{"p":"a","k":"floor","x":2,"y":97.5,"z":0.1378},{"p":"a","k":"floor","x":4,"y":87.5,"z":0.1378},{"p":"a","k":"floor","x":4,"y":97.5,"z":0.1378},
{"p":"b","k":"floor","x":2,"y":3,"z":0.1378},{"p":"b","k":"floor","x":2,"y":9,"z":0.1378},{"p":"b","k":"floor","x":4,"y":3,"z":0.1378},{"p":"b","k":"floor","x":4,"y":9,"z":0.1378},
{"p":"c","k":"floor","x":87.5,"y":3,"z":0.1378},{"p":"c","k":"floor","x":87.5,"y":9,"z":0.1378},{"p":"c","k":"floor","x":97.5,"y":3,"z":0.1378},{"p":"c","k":"floor","x":97.5,"y":9,"z":0.1378},

{"p":"a","k":"f","id":"z2","x":4,"y":97.5,"z":0.2},{"p":"a","k":"f","id":"z2","x":4,"y":87.5,"z":0.2},{"p":"a","k":"f","id":"z2","x":2,"y":87.5,"z":0.2},
{"p":"a","k":"f","id":"z25","x":4,"y":97.5,"z":0.25},{"p":"a","k":"f","id":"z25","x":4,"y":87.5,"z":0.25},{"p":"a","k":"f","id":"z25","x":2,"y":87.5,"z":0.25},
{"p":"a","k":"f","id":"z3","x":4,"y":97.5,"z":0.3},{"p":"a","k":"f","id":"z3","x":4,"y":87.5,"z":0.3},{"p":"a","k":"f","id":"z3","x":2,"y":87.5,"z":0.3},
{"p":"a","k":"f","id":"z35","x":4,"y":97.5,"z":0.35},{"p":"a","k":"f","id":"z35","x":4,"y":87.5,"z":0.35},{"p":"a","k":"f","id":"z35","x":2,"y":87.5,"z":0.35},
{"p":"a","k":"f","id":"z4","x":4,"y":97.5,"z":0.4},{"p":"a","k":"f","id":"z4","x":4,"y":87.5,"z":0.4},{"p":"a","k":"f","id":"z4","x":2,"y":87.5,"z":0.4},
{"p":"a","k":"f","id":"v1","x":4,"y":97.5,"z":0.1378},{"p":"a","k":"f","id":"v1","x":4,"y":97.5,"z":0.4},
{"p":"a","k":"f","id":"v2","x":4,"y":92.5,"z":0.1378},{"p":"a","k":"f","id":"v2","x":4,"y":92.5,"z":0.4},
{"p":"a","k":"f","id":"v3","x":4,"y":87.5,"z":0.1378},{"p":"a","k":"f","id":"v3","x":4,"y":87.5,"z":0.4},
{"p":"a","k":"f","id":"v4","x":3.5,"y":87.5,"z":0.1378},{"p":"a","k":"f","id":"v4","x":3.5,"y":87.5,"z":0.4},
{"p":"a","k":"f","id":"v5","x":3,"y":87.5,"z":0.1378},{"p":"a","k":"f","id":"v5","x":3,"y":87.5,"z":0.4},
{"p":"a","k":"f","id":"v6","x":2.5,"y":87.5,"z":0.1378},{"p":"a","k":"f","id":"v6","x":2.5,"y":87.5,"z":0.4},
{"p":"a","k":"f","id":"v7","x":2,"y":87.5,"z":0.1378},{"p":"a","k":"f","id":"v7","x":2,"y":87.5,"z":0.4},
{"p":"b","k":"f","id":"z2","x":4,"y":9,"z":0.2},{"p":"b","k":"f","id":"z2","x":4,"y":3,"z":0.2},{"p":"b","k":"f","id":"z2","x":2,"y":3,"z":0.2},
{"p":"b","k":"f","id":"z25","x":4,"y":9,"z":0.25},{"p":"b","k":"f","id":"z25","x":4,"y":3,"z":0.25},{"p":"b","k":"f","id":"z25","x":2,"y":3,"z":0.25},
{"p":"b","k":"f","id":"z3","x":4,"y":9,"z":0.3},{"p":"b","k":"f","id":"z3","x":4,"y":3,"z":0.3},{"p":"b","k":"f","id":"z3","x":2,"y":3,"z":0.3},
{"p":"b","k":"f","id":"z35","x":4,"y":9,"z":0.35},{"p":"b","k":"f","id":"z35","x":4,"y":3,"z":0.35},{"p":"b","k":"f","id":"z35","x":2,"y":3,"z":0.35},
{"p":"b","k":"f","id":"z4","x":4,"y":9,"z":0.4},{"p":"b","k":"f","id":"z4","x":4,"y":3,"z":0.4},{"p":"b","k":"f","id":"z4","x":2,"y":3,"z":0.4},
{"p":"b","k":"f","id":"v1","x":4,"y":9,"z":0.1378},{"p":"b","k":"f","id":"v1","x":4,"y":9,"z":0.4},
{"p":"b","k":"f","id":"v2","x":4,"y":6,"z":0.1378},{"p":"b","k":"f","id":"v2","x":4,"y":6,"z":0.4},
{"p":"b","k":"f","id":"v3","x":4,"y":3,"z":0.1378},{"p":"b","k":"f","id":"v3","x":4,"y":3,"z":0.4},
{"p":"b","k":"f","id":"v4","x":3.5,"y":3,"z":0.1378},{"p":"b","k":"f","id":"v4","x":3.5,"y":3,"z":0.4},
{"p":"b","k":"f","id":"v5","x":3,"y":3,"z":0.1378},{"p":"b","k":"f","id":"v5","x":3,"y":3,"z":0.4},
{"p":"b","k":"f","id":"v6","x":2.5,"y":3,"z":0.1378},{"p":"b","k":"f","id":"v6","x":2.5,"y":3,"z":0.4},
{"p":"b","k":"f","id":"v7","x":2,"y":3,"z":0.1378},{"p":"b","k":"f","id":"v7","x":2,"y":3,"z":0.4},
{"p":"c","k":"f","id":"z2","x":97.5,"y":9,"z":0.2},{"p":"c","k":"f","id":"z2","x":97.5,"y":3,"z":0.2},{"p":"c","k":"f","id":"z2","x":87.5,"y":3,"z":0.2},
{"p":"c","k":"f","id":"z25","x":97.5,"y":9,"z":0.25},{"p":"c","k":"f","id":"z25","x":97.5,"y":3,"z":0.25},{"p":"c","k":"f","id":"z25","x":87.5,"y":3,"z":0.25},
{"p":"c","k":"f","id":"z3","x":97.5,"y":9,"z":0.3},{"p":"c","k":"f","id":"z3","x":97.5,"y":3,"z":0.3},{"p":"c","k":"f","id":"z3","x":87.5,"y":3,"z":0.3},
{"p":"c","k":"f","id":"z35","x":97.5,"y":9,"z":0.35},{"p":"c","k":"f","id":"z35","x":97.5,"y":3,"z":0.35},{"p":"c","k":"f","id":"z35","x":87.5,"y":3,"z":0.35},
{"p":"c","k":"f","id":"z4","x":97.5,"y":9,"z":0.4},{"p":"c","k":"f","id":"z4","x":97.5,"y":3,"z":0.4},{"p":"c","k":"f","id":"z4","x":87.5,"y":3,"z":0.4},
{"p":"c","k":"f","id":"v1","x":97.5,"y":9,"z":0.1378},{"p":"c","k":"f","id":"v1","x":97.5,"y":9,"z":0.4},
{"p":"c","k":"f","id":"v2","x":97.5,"y":6,"z":0.1378},{"p":"c","k":"f","id":"v2","x":97.5,"y":6,"z":0.4},
{"p":"c","k":"f","id":"v3","x":97.5,"y":3,"z":0.1378},{"p":"c","k":"f","id":"v3","x":97.5,"y":3,"z":0.4},
{"p":"c","k":"f","id":"v4","x":92.5,"y":3,"z":0.1378},{"p":"c","k":"f","id":"v4","x":92.5,"y":3,"z":0.4},
{"p":"c","k":"f","id":"v5","x":87.5,"y":3,"z":0.1378},{"p":"c","k":"f","id":"v5","x":87.5,"y":3,"z":0.4},

{"p":"a","k":"c","id":"1","lvl":0.305,"x":3.674,"y":97.5,"z":0.1378},{"p":"a","k":"c","id":"1","lvl":0.305,"x":3.836,"y":94.3,"z":0.1378},{"p":"a","k":"c","id":"1","lvl":0.305,"x":4,"y":91.87,"z":0.1378},
{"p":"a","k":"c","id":"2","lvl":0.288,"x":3.29,"y":97.5,"z":0.1378},{"p":"a","k":"c","id":"2","lvl":0.288,"x":3.544,"y":93.3,"z":0.1378},{"p":"a","k":"c","id":"2","lvl":0.288,"x":3.866,"y":89.4,"z":0.1378},
{"p":"a","k":"c","id":"3","lvl":0.27,"x":2.814,"y":97.5,"z":0.1378},{"p":"a","k":"c","id":"3","lvl":0.27,"x":3.028,"y":94.5,"z":0.1378},{"p":"a","k":"c","id":"3","lvl":0.27,"x":3.226,"y":92,"z":0.1378},{"p":"a","k":"c","id":"3","lvl":0.27,"x":3.516,"y":89.2,"z":0.1378},
{"p":"a","k":"c","id":"4","lvl":0.25,"x":2.162,"y":97.5,"z":0.1378},{"p":"a","k":"c","id":"4","lvl":0.25,"x":2.524,"y":93.5,"z":0.1378},{"p":"a","k":"c","id":"4","lvl":0.25,"x":2.964,"y":90,"z":0.1378},{"p":"a","k":"c","id":"4","lvl":0.25,"x":3.31,"y":87.5,"z":0.1378},
{"p":"a","k":"c","id":"5","lvl":0.232,"x":2,"y":91.73,"z":0.1378},{"p":"a","k":"c","id":"5","lvl":0.232,"x":2.36,"y":89.7,"z":0.1378},{"p":"a","k":"c","id":"5","lvl":0.232,"x":2.752,"y":87.6,"z":0.1378},
{"p":"b","k":"c","id":"1","lvl":0.25,"x":3.244,"y":9,"z":0.1378},{"p":"b","k":"c","id":"1","lvl":0.25,"x":3.154,"y":7.75,"z":0.1378},{"p":"b","k":"c","id":"1","lvl":0.25,"x":2.836,"y":6.52,"z":0.1378},{"p":"b","k":"c","id":"1","lvl":0.25,"x":2.386,"y":5.28,"z":0.1378},{"p":"b","k":"c","id":"1","lvl":0.25,"x":2,"y":4.54,"z":0.1378},
{"p":"b","k":"c","id":"2","lvl":0.28,"x":3.898,"y":9,"z":0.1378},{"p":"b","k":"c","id":"2","lvl":0.28,"x":3.692,"y":7.22,"z":0.1378},{"p":"b","k":"c","id":"2","lvl":0.28,"x":3.194,"y":5.42,"z":0.1378},{"p":"b","k":"c","id":"2","lvl":0.28,"x":2.608,"y":4.07,"z":0.1378},{"p":"b","k":"c","id":"2","lvl":0.28,"x":2,"y":3.2,"z":0.1378},
{"p":"b","k":"c","id":"3","lvl":0.305,"x":4,"y":6.54,"z":0.1378},{"p":"b","k":"c","id":"3","lvl":0.305,"x":3.622,"y":5.04,"z":0.1378},{"p":"b","k":"c","id":"3","lvl":0.305,"x":3.27,"y":4.12,"z":0.1378},{"p":"b","k":"c","id":"3","lvl":0.305,"x":2.628,"y":3,"z":0.1378},
{"p":"b","k":"c","id":"4","lvl":0.315,"x":4,"y":4.97,"z":0.1378},{"p":"b","k":"c","id":"4","lvl":0.315,"x":3.7,"y":3.9,"z":0.1378},{"p":"b","k":"c","id":"4","lvl":0.315,"x":3.326,"y":3,"z":0.1378},
{"p":"c","k":"c","id":"1","lvl":0.245,"x":93.27,"y":9,"z":0.1378},{"p":"c","k":"c","id":"1","lvl":0.245,"x":92.89,"y":8.4,"z":0.1378},{"p":"c","k":"c","id":"1","lvl":0.245,"x":91.49,"y":7.34,"z":0.1378},{"p":"c","k":"c","id":"1","lvl":0.245,"x":89.75,"y":6.49,"z":0.1378},{"p":"c","k":"c","id":"1","lvl":0.245,"x":87.5,"y":5.56,"z":0.1378},
{"p":"c","k":"c","id":"2","lvl":0.26,"x":97.5,"y":7.23,"z":0.1378},{"p":"c","k":"c","id":"2","lvl":0.26,"x":95.45,"y":6.66,"z":0.1378},{"p":"c","k":"c","id":"2","lvl":0.26,"x":92.78,"y":5.82,"z":0.1378},{"p":"c","k":"c","id":"2","lvl":0.26,"x":90.04,"y":4.88,"z":0.1378},{"p":"c","k":"c","id":"2","lvl":0.26,"x":87.5,"y":4.33,"z":0.1378},
{"p":"c","k":"c","id":"3","lvl":0.29,"x":97.5,"y":5.63,"z":0.1378},{"p":"c","k":"c","id":"3","lvl":0.29,"x":94.87,"y":5.07,"z":0.1378},{"p":"c","k":"c","id":"3","lvl":0.29,"x":90.7,"y":4.02,"z":0.1378},{"p":"c","k":"c","id":"3","lvl":0.29,"x":87.5,"y":3.4,"z":0.1378},
{"p":"c","k":"c","id":"4","lvl":0.305,"x":95.5,"y":4.32,"z":0.1378},{"p":"c","k":"c","id":"4","lvl":0.305,"x":94,"y":3.88,"z":0.1378},{"p":"c","k":"c","id":"4","lvl":0.305,"x":89.33,"y":3,"z":0.1378},
{"p":"c","k":"c","id":"5","lvl":0.315,"x":94.2,"y":3.12,"z":0.1378},{"p":"c","k":"c","id":"5","lvl":0.315,"x":93.12,"y":3,"z":0.1378},

{"p":"a","k":"zt","x":4,"y":97.5,"z":0.4,"t":"0.4"},{"p":"a","k":"zt","x":4,"y":97.5,"z":0.35,"t":"0.35"},{"p":"a","k":"zt","x":4,"y":97.5,"z":0.3,"t":"0.3"},{"p":"a","k":"zt","x":4,"y":97.5,"z":0.25,"t":"0.25"},{"p":"a","k":"zt","x":4,"y":97.5,"z":0.2,"t":"0.2"},
{"p":"b","k":"zt","x":4,"y":9,"z":0.4,"t":"0.4"},{"p":"b","k":"zt","x":4,"y":9,"z":0.35,"t":"0.35"},{"p":"b","k":"zt","x":4,"y":9,"z":0.3,"t":"0.3"},{"p":"b","k":"zt","x":4,"y":9,"z":0.25,"t":"0.25"},{"p":"b","k":"zt","x":4,"y":9,"z":0.2,"t":"0.2"},
{"p":"c","k":"zt","x":97.5,"y":9,"z":0.4,"t":"0.4"},{"p":"c","k":"zt","x":97.5,"y":9,"z":0.35,"t":"0.35"},{"p":"c","k":"zt","x":97.5,"y":9,"z":0.3,"t":"0.3"},{"p":"c","k":"zt","x":97.5,"y":9,"z":0.25,"t":"0.25"},{"p":"c","k":"zt","x":97.5,"y":9,"z":0.2,"t":"0.2"},
{"p":"a","k":"lt","x":4,"y":97.5,"z":0.1378,"t":"4"},{"p":"a","k":"lt","x":3.5,"y":97.5,"z":0.1378,"t":"3.5"},{"p":"a","k":"lt","x":3,"y":97.5,"z":0.1378,"t":"3"},{"p":"a","k":"lt","x":2.5,"y":97.5,"z":0.1378,"t":"2.5"},{"p":"a","k":"lt","x":2,"y":97.5,"z":0.1378,"t":"2"},
{"p":"b","k":"lt","x":4,"y":9,"z":0.1378,"t":"4"},{"p":"b","k":"lt","x":3.5,"y":9,"z":0.1378,"t":"3.5"},{"p":"b","k":"lt","x":3,"y":9,"z":0.1378,"t":"3"},{"p":"b","k":"lt","x":2.5,"y":9,"z":0.1378,"t":"2.5"},{"p":"b","k":"lt","x":2,"y":9,"z":0.1378,"t":"2"},
{"p":"c","k":"lt","x":97.5,"y":9,"z":0.1378,"t":"97.5"},{"p":"c","k":"lt","x":92.5,"y":9,"z":0.1378,"t":"92.5"},{"p":"c","k":"lt","x":87.5,"y":9,"z":0.1378,"t":"87.5"},
{"p":"a","k":"rt","x":2,"y":97.5,"z":0.1378,"t":"97.5"},{"p":"a","k":"rt","x":2,"y":92.5,"z":0.1378,"t":"92.5"},{"p":"a","k":"rt","x":2,"y":87.5,"z":0.1378,"t":"87.5"},
{"p":"b","k":"rt","x":2,"y":9,"z":0.1378,"t":"9"},{"p":"b","k":"rt","x":2,"y":6,"z":0.1378,"t":"6"},{"p":"b","k":"rt","x":2,"y":3,"z":0.1378,"t":"3"},
{"p":"c","k":"rt","x":87.5,"y":9,"z":0.1378,"t":"9"},{"p":"c","k":"rt","x":87.5,"y":6,"z":0.1378,"t":"6"},{"p":"c","k":"rt","x":87.5,"y":3,"z":0.1378,"t":"3"},

{"p":"a","k":"zttl","x":4,"y":97.5,"z":0.3,"t":"Bottom KW (mm)"},{"p":"b","k":"zttl","x":4,"y":9,"z":0.3,"t":"Bottom KW (mm)"},{"p":"c","k":"zttl","x":97.5,"y":9,"z":0.3,"t":"Bottom KW (mm)"},
{"p":"a","k":"lttl","x":3,"y":97.5,"z":0.1378,"t":"Plate thickness (mm)"},{"p":"b","k":"lttl","x":3,"y":9,"z":0.1378,"t":"Plate thickness (mm)"},{"p":"c","k":"lttl","x":92.5,"y":9,"z":0.1378,"t":"Power (W)"},
{"p":"a","k":"rttl","x":2,"y":92.5,"z":0.1378,"t":"Power (W)"},{"p":"b","k":"rttl","x":2,"y":6,"z":0.1378,"t":"Cutting speed (mm/s)"},{"p":"c","k":"rttl","x":87.5,"y":6,"z":0.1378,"t":"Cutting speed (mm/s)"},
{"p":"a","k":"cap","x":2,"y":97.5,"z":0.1378,"t":"a"},{"p":"b","k":"cap","x":2,"y":9,"z":0.1378,"t":"b"},{"p":"c","k":"cap","x":87.5,"y":9,"z":0.1378,"t":"c"},
{"p":"a","k":"call","x":2,"y":87.5,"z":0.226925,"t":"0.226925"},{"p":"b","k":"call","x":2,"y":9,"z":0.23558,"t":"0.23558"},{"p":"c","k":"call","x":87.5,"y":9,"z":0.237434,"t":"0.237434"}
]},
"transform":[
{"calculate":"(datum.x-cam[datum.p].x0)/cam[datum.p].xs","as":"u"},
{"calculate":"(cam[datum.p].y0-datum.y)/cam[datum.p].ys","as":"v"},
{"calculate":"(datum.z-0.1378)/0.2622","as":"w"},
{"calculate":"(1-datum.w)*((1-datum.u)*(1-datum.v)*cam[datum.p].X[0]+datum.u*(1-datum.v)*cam[datum.p].X[1]+(1-datum.u)*datum.v*cam[datum.p].X[2]+datum.u*datum.v*cam[datum.p].X[3])+datum.w*((1-datum.u)*(1-datum.v)*cam[datum.p].X[4]+datum.u*(1-datum.v)*cam[datum.p].X[5]+(1-datum.u)*datum.v*cam[datum.p].X[6]+datum.u*datum.v*cam[datum.p].X[7])","as":"sx"},
{"calculate":"(1-datum.w)*((1-datum.u)*(1-datum.v)*cam[datum.p].Y[0]+datum.u*(1-datum.v)*cam[datum.p].Y[1]+(1-datum.u)*datum.v*cam[datum.p].Y[2]+datum.u*datum.v*cam[datum.p].Y[3])+datum.w*((1-datum.u)*(1-datum.v)*cam[datum.p].Y[4]+datum.u*(1-datum.v)*cam[datum.p].Y[5]+(1-datum.u)*datum.v*cam[datum.p].Y[6]+datum.u*datum.v*cam[datum.p].Y[7])","as":"sy"}
],
"layer":[
{"transform":[{"filter":"datum.k=='f'"}],"mark":{"type":"line","color":"#1a1a1a","strokeWidth":2.4},"encoding":{"x":{"field":"sx","type":"quantitative","scale":{"domain":[0,3266],"nice":false,"zero":false},"axis":null},"y":{"field":"sy","type":"quantitative","scale":{"domain":[2884,0],"nice":false,"zero":false},"axis":null},"detail":[{"field":"p"},{"field":"id"}]}},
{"transform":[{"filter":"datum.k=='floor'"},
{"window":[{"op":"lead","field":"sx","as":"ax"},{"op":"lead","field":"sy","as":"ay"}],"groupby":["p","y"],"sort":[{"field":"x","order":"ascending"}]},
{"window":[{"op":"lead","field":"sx","as":"bx"},{"op":"lead","field":"sy","as":"by"},{"op":"lead","field":"ax","as":"cx"},{"op":"lead","field":"ay","as":"cy"}],"groupby":["p","x"],"sort":[{"field":"y","order":"ascending"}]},
{"filter":"datum.ax!=null&&datum.bx!=null&&datum.cx!=null"},
{"calculate":"{type:'Feature',geometry:{type:'Polygon',coordinates:[[[datum.sx,datum.sy],[datum.ax,datum.ay],[datum.cx,datum.cy],[datum.bx,datum.by],[datum.sx,datum.sy]]]}}","as":"geo"}],
"projection":{"type":"identity","scale":1,"translate":[0,0]},"mark":{"type":"geoshape","fill":"#666666","stroke":"#000","strokeWidth":3.5},"encoding":{"shape":{"field":"geo","type":"geojson"}}},
{"transform":[{"filter":"datum.k=='c'"}],"mark":{"type":"line","strokeWidth":4.5,"interpolate":"basis"},"encoding":{"x":{"field":"sx","type":"quantitative","scale":{"domain":[0,3266],"nice":false,"zero":false},"axis":null},"y":{"field":"sy","type":"quantitative","scale":{"domain":[2884,0],"nice":false,"zero":false},"axis":null},"detail":[{"field":"p"},{"field":"id"}],"color":{"field":"lvl","type":"quantitative","legend":null,"scale":{"domain":[0.215,0.2269,0.2356,0.25,0.258,0.31,0.322,0.33,0.345,0.355,0.368],"range":["#0020ff","#0058ff","#0088ff","#00ddff","#00ffff","#00ff08","#00ff20","#90ff50","#ddff55","#ffff55","#ffb860"]}}}},
{"transform":[{"filter":"datum.k==null"},
{"window":[{"op":"lead","field":"sx","as":"ax"},{"op":"lead","field":"sy","as":"ay"},{"op":"lead","field":"z","as":"az"}],"groupby":["p","y"],"sort":[{"field":"x","order":"ascending"}]},
{"window":[{"op":"lead","field":"sx","as":"bx"},{"op":"lead","field":"sy","as":"by"},{"op":"lead","field":"z","as":"bz"},{"op":"lead","field":"ax","as":"cx"},{"op":"lead","field":"ay","as":"cy"},{"op":"lead","field":"az","as":"cz"}],"groupby":["p","x"],"sort":[{"field":"y","order":"ascending"}]},
{"filter":"datum.ax!=null&&datum.bx!=null&&datum.cx!=null"},
{"calculate":"(datum.z+datum.az+datum.bz+datum.cz)/4","as":"zm"},
{"calculate":"{type:'Feature',geometry:{type:'Polygon',coordinates:[[[datum.sx,datum.sy],[datum.ax,datum.ay],[datum.cx,datum.cy],[datum.bx,datum.by],[datum.sx,datum.sy]]]}}","as":"geo"}],
"projection":{"type":"identity","scale":1,"translate":[0,0]},"mark":{"type":"geoshape","stroke":"#1a1a1a","strokeWidth":1.8},"encoding":{"shape":{"field":"geo","type":"geojson"},"color":{"field":"zm","type":"quantitative","legend":null,"scale":{"domain":[0.215,0.2269,0.2356,0.25,0.258,0.31,0.322,0.33,0.345,0.355,0.368],"range":["#0020ff","#0058ff","#0088ff","#00ddff","#00ffff","#00ff08","#00ff20","#90ff50","#ddff55","#ffff55","#ffb860"]}}}},
{"transform":[{"filter":"datum.k=='call'"},{"calculate":"datum.sx+off.box[datum.p][1]","as":"ex"},{"calculate":"datum.sy+off.box[datum.p][3]","as":"ey"}],"mark":{"type":"rule","color":"#1a1a1a","strokeWidth":2.4},"encoding":{"x":{"field":"sx","type":"quantitative","scale":{"domain":[0,3266],"nice":false,"zero":false},"axis":null},"y":{"field":"sy","type":"quantitative","scale":{"domain":[2884,0],"nice":false,"zero":false},"axis":null},"x2":{"field":"ex"},"y2":{"field":"ey"}}},
{"transform":[{"filter":"datum.k=='call'"},{"calculate":"datum.sx+off.box[datum.p][0]","as":"x1"},{"calculate":"datum.sx+off.box[datum.p][1]","as":"x2"},{"calculate":"datum.sy+off.box[datum.p][2]","as":"y1"},{"calculate":"datum.sy+off.box[datum.p][3]","as":"y2"}],"mark":{"type":"rect","fill":"white","stroke":"#777","strokeWidth":2},"encoding":{"x":{"field":"x1","type":"quantitative","scale":{"domain":[0,3266],"nice":false,"zero":false},"axis":null},"y":{"field":"y1","type":"quantitative","scale":{"domain":[2884,0],"nice":false,"zero":false},"axis":null},"x2":{"field":"x2"},"y2":{"field":"y2"}}},
{"transform":[{"filter":"datum.k=='call'"},{"calculate":"datum.sx+(off.box[datum.p][0]+off.box[datum.p][1])/2","as":"tx"},{"calculate":"datum.sy+(off.box[datum.p][2]+off.box[datum.p][3])/2","as":"ty"}],"mark":{"type":"text","font":"Liberation Serif","fontSize":54,"color":"#000","baseline":"middle","align":"center"},"encoding":{"x":{"field":"tx","type":"quantitative","scale":{"domain":[0,3266],"nice":false,"zero":false},"axis":null},"y":{"field":"ty","type":"quantitative","scale":{"domain":[2884,0],"nice":false,"zero":false},"axis":null},"text":{"field":"t"}}},
{"transform":[{"filter":"datum.k=='zt'||datum.k=='lt'||datum.k=='rt'"}],"mark":{"type":"point","filled":true,"color":"#000","size":130,"opacity":1},"encoding":{"x":{"field":"sx","type":"quantitative","scale":{"domain":[0,3266],"nice":false,"zero":false},"axis":null},"y":{"field":"sy","type":"quantitative","scale":{"domain":[2884,0],"nice":false,"zero":false},"axis":null}}},
{"transform":[{"filter":"datum.k=='zt'"}],"mark":{"type":"text","font":"Liberation Serif","fontSize":53,"color":"#000","baseline":"middle","align":"right","dx":-30,"dy":-32},"encoding":{"x":{"field":"sx","type":"quantitative","scale":{"domain":[0,3266],"nice":false,"zero":false},"axis":null},"y":{"field":"sy","type":"quantitative","scale":{"domain":[2884,0],"nice":false,"zero":false},"axis":null},"text":{"field":"t"}}},
{"transform":[{"filter":"datum.k=='lt'"}],"mark":{"type":"text","font":"Liberation Serif","fontSize":53,"color":"#000","baseline":"middle","align":"right","dx":-31,"dy":31},"encoding":{"x":{"field":"sx","type":"quantitative","scale":{"domain":[0,3266],"nice":false,"zero":false},"axis":null},"y":{"field":"sy","type":"quantitative","scale":{"domain":[2884,0],"nice":false,"zero":false},"axis":null},"text":{"field":"t"}}},
{"transform":[{"filter":"datum.k=='rt'"}],"mark":{"type":"text","font":"Liberation Serif","fontSize":53,"color":"#000","baseline":"middle","align":"left","dx":30,"dy":31},"encoding":{"x":{"field":"sx","type":"quantitative","scale":{"domain":[0,3266],"nice":false,"zero":false},"axis":null},"y":{"field":"sy","type":"quantitative","scale":{"domain":[2884,0],"nice":false,"zero":false},"axis":null},"text":{"field":"t"}}},
{"transform":[{"filter":"datum.k=='lttl'||datum.k=='rttl'"},{"calculate":"datum.sx+off[datum.k][datum.p][0]","as":"tx"},{"calculate":"datum.sy+off[datum.k][datum.p][1]","as":"ty"}],"mark":{"type":"text","font":"Liberation Serif","color":"#000","baseline":"middle","align":"center"},"encoding":{"x":{"field":"tx","type":"quantitative","scale":{"domain":[0,3266],"nice":false,"zero":false},"axis":null},"y":{"field":"ty","type":"quantitative","scale":{"domain":[2884,0],"nice":false,"zero":false},"axis":null},"text":{"field":"t"},"size":{"condition":{"test":"datum.k=='rttl'&&datum.p=='b'","value":60},"value":54}}},
{"transform":[{"filter":"datum.k=='zttl'"},{"calculate":"datum.sx+off[datum.k][datum.p][0]","as":"tx"},{"calculate":"datum.sy+off[datum.k][datum.p][1]","as":"ty"}],"mark":{"type":"text","font":"Liberation Serif","fontSize":53,"color":"#000","baseline":"middle","align":"center","angle":270},"encoding":{"x":{"field":"tx","type":"quantitative","scale":{"domain":[0,3266],"nice":false,"zero":false},"axis":null},"y":{"field":"ty","type":"quantitative","scale":{"domain":[2884,0],"nice":false,"zero":false},"axis":null},"text":{"field":"t"}}},
{"transform":[{"filter":"datum.k=='cap'"},{"calculate":"datum.sx+off[datum.k][datum.p][0]","as":"tx"},{"calculate":"datum.sy+off[datum.k][datum.p][1]","as":"ty"}],"mark":{"type":"text","font":"Liberation Serif","fontSize":72,"fontWeight":"bold","color":"#000","baseline":"middle","align":"center"},"encoding":{"x":{"field":"tx","type":"quantitative","scale":{"domain":[0,3266],"nice":false,"zero":false},"axis":null},"y":{"field":"ty","type":"quantitative","scale":{"domain":[2884,0],"nice":false,"zero":false},"axis":null},"text":{"field":"t"}}},
{"transform":[{"filter":"datum.k=='cap'"},{"calculate":"datum.sx+off[datum.k][datum.p][0]","as":"tx"},{"calculate":"datum.sy+off[datum.k][datum.p][1]","as":"ty"},{"calculate":"'('","as":"lp"}],"mark":{"type":"text","font":"Liberation Serif","fontSize":72,"color":"#000","baseline":"middle","align":"center","dx":-31},"encoding":{"x":{"field":"tx","type":"quantitative","scale":{"domain":[0,3266],"nice":false,"zero":false},"axis":null},"y":{"field":"ty","type":"quantitative","scale":{"domain":[2884,0],"nice":false,"zero":false},"axis":null},"text":{"field":"lp"}}},
{"transform":[{"filter":"datum.k=='cap'"},{"calculate":"datum.sx+off[datum.k][datum.p][0]","as":"tx"},{"calculate":"datum.sy+off[datum.k][datum.p][1]","as":"ty"},{"calculate":"')'","as":"rp"}],"mark":{"type":"text","font":"Liberation Serif","fontSize":72,"color":"#000","baseline":"middle","align":"center","dx":31},"encoding":{"x":{"field":"tx","type":"quantitative","scale":{"domain":[0,3266],"nice":false,"zero":false},"axis":null},"y":{"field":"ty","type":"quantitative","scale":{"domain":[2884,0],"nice":false,"zero":false},"axis":null},"text":{"field":"rp"}}}
]}
